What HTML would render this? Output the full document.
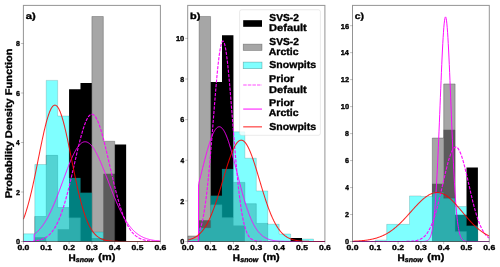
<!DOCTYPE html>
<html><head><meta charset="utf-8"><style>
html,body{margin:0;padding:0;background:#fff;width:500px;height:267px;overflow:hidden}
svg{display:block}
text{filter:grayscale(1)}
</style></head><body>
<svg width="500" height="267" viewBox="0 0 500 267">
<rect width="500" height="267" fill="#fff"/>
<clipPath id="clipa"><rect x="23.40" y="5.40" width="137.00" height="236.10"/></clipPath>
<g clip-path="url(#clipa)">
<path d="M23.40,241.50 L23.40,241.50 L34.82,241.50 L34.82,237.29 L46.23,237.29 L46.23,241.50 L57.65,241.50 L57.65,229.37 L69.07,229.37 L69.07,89.29 L80.48,89.29 L80.48,83.10 L91.90,83.10 L91.90,238.03 L103.32,238.03 L103.32,173.69 L114.73,173.69 L114.73,144.48 L126.15,144.48 L126.15,241.50 L137.57,241.50 L137.57,241.50 L148.98,241.50 L148.98,241.50 L160.40,241.50 L160.40,241.50 Z" fill="#000" stroke="none"/>
<path d="M23.40,241.50 L23.40,241.50 L34.82,241.50 L34.82,216.50 L46.23,216.50 L46.23,155.37 L57.65,155.37 L57.65,207.59 L69.07,207.59 L69.07,217.74 L80.48,217.74 L80.48,241.50 L91.90,241.50 L91.90,16.52 L103.32,16.52 L103.32,141.26 L114.73,141.26 L114.73,241.50 L126.15,241.50 L126.15,241.50 L137.57,241.50 L137.57,241.50 L148.98,241.50 L148.98,241.50 L160.40,241.50 L160.40,241.50 Z" fill="#808080" fill-opacity="0.7" stroke="#404040" stroke-opacity="0.6" stroke-width="0.6"/>
<path d="M23.40,241.50 L23.40,233.83 L34.82,233.83 L34.82,164.53 L46.23,164.53 L46.23,80.38 L57.65,80.38 L57.65,116.02 L69.07,116.02 L69.07,177.89 L80.48,177.89 L80.48,192.74 L91.90,192.74 L91.90,232.09 L103.32,232.09 L103.32,241.50 L114.73,241.50 L114.73,241.50 L126.15,241.50 L126.15,241.50 L137.57,241.50 L137.57,241.50 L148.98,241.50 L148.98,241.50 L160.40,241.50 L160.40,241.50 Z" fill="#00ffff" fill-opacity="0.5" stroke="#206060" stroke-opacity="0.35" stroke-width="0.6"/>
<path d="M23.40,241.50 L23.74,241.50 L24.08,241.50 L24.43,241.50 L24.77,241.50 L25.11,241.50 L25.45,241.50 L25.80,241.50 L26.14,241.50 L26.48,241.50 L26.82,241.50 L27.17,241.50 L27.51,241.50 L27.85,241.50 L28.20,241.50 L28.54,241.50 L28.88,241.50 L29.22,241.50 L29.56,241.50 L29.91,241.50 L30.25,241.50 L30.59,241.50 L30.93,241.50 L31.28,241.50 L31.62,241.50 L31.96,241.50 L32.30,241.50 L32.65,241.50 L32.99,241.50 L33.33,241.50 L33.67,241.50 L34.02,241.50 L34.20,241.50 L34.20,240.92 L34.36,240.90 L34.70,240.86 L35.05,240.82 L35.39,240.77 L35.73,240.73 L36.07,240.68 L36.41,240.63 L36.76,240.57 L37.10,240.51 L37.44,240.45 L37.78,240.38 L38.13,240.32 L38.47,240.24 L38.81,240.17 L39.16,240.09 L39.50,240.00 L39.84,239.91 L40.18,239.82 L40.52,239.72 L40.87,239.62 L41.21,239.51 L41.55,239.39 L41.89,239.27 L42.24,239.15 L42.58,239.01 L42.92,238.87 L43.27,238.73 L43.61,238.57 L43.95,238.41 L44.29,238.25 L44.63,238.07 L44.98,237.89 L45.32,237.69 L45.66,237.49 L46.00,237.28 L46.35,237.07 L46.69,236.84 L47.03,236.60 L47.38,236.35 L47.72,236.09 L48.06,235.82 L48.40,235.54 L48.74,235.24 L49.09,234.94 L49.43,234.62 L49.77,234.29 L50.11,233.95 L50.46,233.59 L50.80,233.22 L51.14,232.84 L51.48,232.44 L51.83,232.03 L52.17,231.60 L52.51,231.16 L52.86,230.70 L53.20,230.22 L53.54,229.73 L53.88,229.22 L54.23,228.69 L54.57,228.15 L54.91,227.59 L55.25,227.01 L55.59,226.41 L55.94,225.80 L56.28,225.16 L56.62,224.51 L56.96,223.83 L57.31,223.14 L57.65,222.42 L57.99,221.69 L58.34,220.94 L58.68,220.16 L59.02,219.36 L59.36,218.55 L59.70,217.71 L60.05,216.85 L60.39,215.97 L60.73,215.07 L61.08,214.14 L61.42,213.20 L61.76,212.23 L62.10,211.24 L62.44,210.23 L62.79,209.20 L63.13,208.15 L63.47,207.08 L63.81,205.98 L64.16,204.87 L64.50,203.73 L64.84,202.57 L65.19,201.40 L65.53,200.20 L65.87,198.98 L66.21,197.75 L66.55,196.49 L66.90,195.22 L67.24,193.93 L67.58,192.62 L67.92,191.29 L68.27,189.95 L68.61,188.60 L68.95,187.22 L69.29,185.84 L69.64,184.43 L69.98,183.02 L70.32,181.59 L70.66,180.16 L71.01,178.71 L71.35,177.25 L71.69,175.78 L72.03,174.31 L72.38,172.82 L72.72,171.34 L73.06,169.84 L73.41,168.34 L73.75,166.84 L74.09,165.34 L74.43,163.84 L74.78,162.34 L75.12,160.84 L75.46,159.34 L75.80,157.84 L76.15,156.35 L76.49,154.87 L76.83,153.39 L77.17,151.93 L77.52,150.47 L77.86,149.03 L78.20,147.59 L78.54,146.18 L78.89,144.77 L79.23,143.39 L79.57,142.02 L79.91,140.67 L80.25,139.34 L80.60,138.03 L80.94,136.75 L81.28,135.49 L81.62,134.26 L81.97,133.05 L82.31,131.87 L82.65,130.72 L82.99,129.60 L83.34,128.51 L83.68,127.46 L84.02,126.43 L84.37,125.45 L84.71,124.50 L85.05,123.58 L85.39,122.71 L85.74,121.87 L86.08,121.07 L86.42,120.32 L86.76,119.60 L87.10,118.93 L87.45,118.30 L87.79,117.71 L88.13,117.17 L88.47,116.68 L88.82,116.23 L89.16,115.82 L89.50,115.46 L89.84,115.15 L90.19,114.89 L90.53,114.67 L90.87,114.50 L91.22,114.38 L91.56,114.31 L91.90,114.29 L92.24,114.31 L92.59,114.38 L92.93,114.50 L93.27,114.67 L93.61,114.89 L93.96,115.15 L94.30,115.46 L94.64,115.82 L94.98,116.23 L95.32,116.68 L95.67,117.17 L96.01,117.71 L96.35,118.30 L96.69,118.93 L97.04,119.60 L97.38,120.32 L97.72,121.07 L98.06,121.87 L98.41,122.71 L98.75,123.58 L99.09,124.50 L99.44,125.45 L99.78,126.43 L100.12,127.46 L100.46,128.51 L100.80,129.60 L101.15,130.72 L101.49,131.87 L101.83,133.05 L102.17,134.26 L102.52,135.49 L102.86,136.75 L103.20,138.03 L103.55,139.34 L103.89,140.67 L104.23,142.02 L104.57,143.39 L104.91,144.77 L105.26,146.18 L105.60,147.59 L105.94,149.03 L106.28,150.47 L106.63,151.93 L106.97,153.39 L107.31,154.87 L107.66,156.35 L108.00,157.84 L108.34,159.34 L108.68,160.84 L109.03,162.34 L109.37,163.84 L109.71,165.34 L110.05,166.84 L110.40,168.34 L110.74,169.84 L111.08,171.34 L111.42,172.82 L111.76,174.31 L112.11,175.78 L112.45,177.25 L112.79,178.71 L113.13,180.16 L113.48,181.59 L113.82,183.02 L114.16,184.43 L114.50,185.84 L114.85,187.22 L115.19,188.60 L115.53,189.95 L115.88,191.29 L116.22,192.62 L116.56,193.93 L116.90,195.22 L117.25,196.49 L117.59,197.75 L117.93,198.98 L118.27,200.20 L118.61,201.40 L118.96,202.57 L119.30,203.73 L119.64,204.87 L119.98,205.98 L120.33,207.08 L120.67,208.15 L121.01,209.20 L121.35,210.23 L121.70,211.24 L122.04,212.23 L122.38,213.20 L122.72,214.14 L123.07,215.07 L123.41,215.97 L123.75,216.85 L124.09,217.71 L124.44,218.55 L124.78,219.36 L125.12,220.16 L125.47,220.94 L125.81,221.69 L126.15,222.42 L126.49,223.14 L126.84,223.83 L127.18,224.51 L127.52,225.16 L127.86,225.80 L128.21,226.41 L128.55,227.01 L128.89,227.59 L129.23,228.15 L129.57,228.69 L129.92,229.22 L130.26,229.73 L130.60,230.22 L130.94,230.70 L131.29,231.16 L131.63,231.60 L131.97,232.03 L132.31,232.44 L132.66,232.84 L133.00,233.22 L133.34,233.59 L133.69,233.95 L134.03,234.29 L134.37,234.62 L134.71,234.94 L135.06,235.24 L135.40,235.54 L135.74,235.82 L136.08,236.09 L136.43,236.35 L136.77,236.60 L137.11,236.84 L137.45,237.07 L137.80,237.28 L138.14,237.49 L138.48,237.69 L138.82,237.89 L139.17,238.07 L139.51,238.25 L139.85,238.41 L140.19,238.57 L140.54,238.73 L140.88,238.87 L141.22,239.01 L141.56,239.15 L141.91,239.27 L142.25,239.39 L142.59,239.51 L142.93,239.62 L143.28,239.72 L143.62,239.82 L143.96,239.91 L144.30,240.00 L144.65,240.09 L144.99,240.17 L145.33,240.24 L145.67,240.32 L146.01,240.38 L146.36,240.45 L146.70,240.51 L147.04,240.57 L147.38,240.63 L147.73,240.68 L148.07,240.73 L148.41,240.77 L148.75,240.82 L149.10,240.86 L149.44,240.90 L149.78,240.94 L150.13,240.97 L150.47,241.00 L150.81,241.04 L151.15,241.07 L151.50,241.09 L151.84,241.12 L152.18,241.14 L152.52,241.17 L152.87,241.19 L153.21,241.21 L153.55,241.23 L153.89,241.25 L154.24,241.26 L154.58,241.28 L154.92,241.29 L155.26,241.31 L155.60,241.32 L155.95,241.33 L156.29,241.34 L156.63,241.36 L156.97,241.37 L157.32,241.37 L157.66,241.38 L158.00,241.39 L158.34,241.40 L158.69,241.41 L159.03,241.41 L159.37,241.42 L159.72,241.43 L160.06,241.43 L160.40,241.44" fill="none" stroke="#ff00ff" stroke-opacity="0.95" stroke-width="1.15" stroke-dasharray="3.2 1.3"/>
<path d="M23.40,241.50 L23.74,241.50 L24.08,241.50 L24.43,241.50 L24.77,241.50 L25.11,241.50 L25.45,241.50 L25.80,241.50 L26.14,241.50 L26.48,241.50 L26.82,241.50 L27.17,241.50 L27.51,241.50 L27.85,241.50 L28.20,241.50 L28.54,241.50 L28.88,241.50 L29.22,241.50 L29.56,241.50 L29.91,241.50 L30.25,241.50 L30.59,241.50 L30.93,241.50 L31.28,241.50 L31.62,241.50 L31.96,241.50 L32.30,241.50 L32.65,241.50 L32.99,241.50 L33.33,241.50 L33.67,241.50 L34.02,241.50 L34.20,241.50 L34.20,234.35 L34.36,234.23 L34.70,233.97 L35.05,233.70 L35.39,233.43 L35.73,233.14 L36.07,232.85 L36.41,232.55 L36.76,232.24 L37.10,231.93 L37.44,231.60 L37.78,231.27 L38.13,230.93 L38.47,230.57 L38.81,230.21 L39.16,229.85 L39.50,229.47 L39.84,229.08 L40.18,228.68 L40.52,228.28 L40.87,227.86 L41.21,227.44 L41.55,227.00 L41.89,226.56 L42.24,226.10 L42.58,225.63 L42.92,225.16 L43.27,224.67 L43.61,224.18 L43.95,223.67 L44.29,223.15 L44.63,222.63 L44.98,222.09 L45.32,221.54 L45.66,220.98 L46.00,220.41 L46.35,219.83 L46.69,219.24 L47.03,218.64 L47.38,218.03 L47.72,217.40 L48.06,216.77 L48.40,216.13 L48.74,215.47 L49.09,214.81 L49.43,214.13 L49.77,213.45 L50.11,212.75 L50.46,212.04 L50.80,211.33 L51.14,210.60 L51.48,209.86 L51.83,209.12 L52.17,208.36 L52.51,207.60 L52.86,206.82 L53.20,206.04 L53.54,205.24 L53.88,204.44 L54.23,203.63 L54.57,202.81 L54.91,201.99 L55.25,201.15 L55.59,200.31 L55.94,199.46 L56.28,198.60 L56.62,197.73 L56.96,196.86 L57.31,195.98 L57.65,195.10 L57.99,194.21 L58.34,193.31 L58.68,192.41 L59.02,191.50 L59.36,190.59 L59.70,189.68 L60.05,188.76 L60.39,187.84 L60.73,186.91 L61.08,185.98 L61.42,185.05 L61.76,184.12 L62.10,183.19 L62.44,182.25 L62.79,181.31 L63.13,180.38 L63.47,179.44 L63.81,178.51 L64.16,177.58 L64.50,176.65 L64.84,175.72 L65.19,174.79 L65.53,173.87 L65.87,172.95 L66.21,172.03 L66.55,171.12 L66.90,170.21 L67.24,169.31 L67.58,168.42 L67.92,167.53 L68.27,166.65 L68.61,165.77 L68.95,164.91 L69.29,164.05 L69.64,163.21 L69.98,162.37 L70.32,161.54 L70.66,160.72 L71.01,159.92 L71.35,159.12 L71.69,158.34 L72.03,157.57 L72.38,156.82 L72.72,156.08 L73.06,155.35 L73.41,154.63 L73.75,153.93 L74.09,153.25 L74.43,152.58 L74.78,151.93 L75.12,151.30 L75.46,150.68 L75.80,150.08 L76.15,149.50 L76.49,148.94 L76.83,148.40 L77.17,147.87 L77.52,147.37 L77.86,146.88 L78.20,146.42 L78.54,145.97 L78.89,145.55 L79.23,145.15 L79.57,144.76 L79.91,144.41 L80.25,144.07 L80.60,143.75 L80.94,143.46 L81.28,143.19 L81.62,142.94 L81.97,142.72 L82.31,142.52 L82.65,142.34 L82.99,142.19 L83.34,142.06 L83.68,141.95 L84.02,141.86 L84.37,141.81 L84.71,141.77 L85.05,141.76 L85.39,141.77 L85.74,141.80 L86.08,141.86 L86.42,141.93 L86.76,142.03 L87.10,142.15 L87.45,142.30 L87.79,142.46 L88.13,142.64 L88.47,142.85 L88.82,143.08 L89.16,143.33 L89.50,143.60 L89.84,143.89 L90.19,144.20 L90.53,144.53 L90.87,144.89 L91.22,145.26 L91.56,145.65 L91.90,146.06 L92.24,146.49 L92.59,146.94 L92.93,147.41 L93.27,147.90 L93.61,148.40 L93.96,148.92 L94.30,149.46 L94.64,150.02 L94.98,150.59 L95.32,151.18 L95.67,151.79 L96.01,152.41 L96.35,153.05 L96.69,153.70 L97.04,154.36 L97.38,155.04 L97.72,155.73 L98.06,156.44 L98.41,157.16 L98.75,157.89 L99.09,158.64 L99.44,159.39 L99.78,160.16 L100.12,160.93 L100.46,161.72 L100.80,162.52 L101.15,163.32 L101.49,164.14 L101.83,164.96 L102.17,165.79 L102.52,166.63 L102.86,167.48 L103.20,168.33 L103.55,169.19 L103.89,170.05 L104.23,170.92 L104.57,171.79 L104.91,172.67 L105.26,173.56 L105.60,174.44 L105.94,175.33 L106.28,176.22 L106.63,177.12 L106.97,178.01 L107.31,178.91 L107.66,179.81 L108.00,180.70 L108.34,181.60 L108.68,182.50 L109.03,183.40 L109.37,184.29 L109.71,185.19 L110.05,186.08 L110.40,186.97 L110.74,187.86 L111.08,188.75 L111.42,189.63 L111.76,190.51 L112.11,191.39 L112.45,192.26 L112.79,193.12 L113.13,193.98 L113.48,194.84 L113.82,195.69 L114.16,196.54 L114.50,197.38 L114.85,198.21 L115.19,199.04 L115.53,199.86 L115.88,200.67 L116.22,201.48 L116.56,202.28 L116.90,203.07 L117.25,203.86 L117.59,204.63 L117.93,205.40 L118.27,206.16 L118.61,206.91 L118.96,207.66 L119.30,208.39 L119.64,209.12 L119.98,209.84 L120.33,210.54 L120.67,211.24 L121.01,211.93 L121.35,212.61 L121.70,213.28 L122.04,213.94 L122.38,214.59 L122.72,215.24 L123.07,215.87 L123.41,216.49 L123.75,217.10 L124.09,217.71 L124.44,218.30 L124.78,218.88 L125.12,219.46 L125.47,220.02 L125.81,220.58 L126.15,221.12 L126.49,221.66 L126.84,222.18 L127.18,222.70 L127.52,223.20 L127.86,223.70 L128.21,224.18 L128.55,224.66 L128.89,225.13 L129.23,225.58 L129.57,226.03 L129.92,226.47 L130.26,226.90 L130.60,227.32 L130.94,227.73 L131.29,228.13 L131.63,228.53 L131.97,228.91 L132.31,229.29 L132.66,229.66 L133.00,230.02 L133.34,230.37 L133.69,230.71 L134.03,231.04 L134.37,231.37 L134.71,231.69 L135.06,232.00 L135.40,232.30 L135.74,232.59 L136.08,232.88 L136.43,233.16 L136.77,233.43 L137.11,233.70 L137.45,233.95 L137.80,234.21 L138.14,234.45 L138.48,234.69 L138.82,234.92 L139.17,235.14 L139.51,235.36 L139.85,235.57 L140.19,235.78 L140.54,235.98 L140.88,236.17 L141.22,236.36 L141.56,236.55 L141.91,236.72 L142.25,236.90 L142.59,237.06 L142.93,237.22 L143.28,237.38 L143.62,237.53 L143.96,237.68 L144.30,237.82 L144.65,237.96 L144.99,238.10 L145.33,238.22 L145.67,238.35 L146.01,238.47 L146.36,238.59 L146.70,238.70 L147.04,238.81 L147.38,238.92 L147.73,239.02 L148.07,239.12 L148.41,239.21 L148.75,239.30 L149.10,239.39 L149.44,239.48 L149.78,239.56 L150.13,239.64 L150.47,239.72 L150.81,239.79 L151.15,239.86 L151.50,239.93 L151.84,239.99 L152.18,240.06 L152.52,240.12 L152.87,240.18 L153.21,240.23 L153.55,240.29 L153.89,240.34 L154.24,240.39 L154.58,240.44 L154.92,240.49 L155.26,240.53 L155.60,240.57 L155.95,240.62 L156.29,240.66 L156.63,240.69 L156.97,240.73 L157.32,240.76 L157.66,240.80 L158.00,240.83 L158.34,240.86 L158.69,240.89 L159.03,240.92 L159.37,240.95 L159.72,240.97 L160.06,241.00 L160.40,241.02" fill="none" stroke="#ff00ff" stroke-opacity="0.95" stroke-width="1.0"/>
<path d="M23.40,219.22 L23.74,218.33 L24.08,217.41 L24.43,216.47 L24.77,215.50 L25.11,214.51 L25.45,213.49 L25.80,212.45 L26.14,211.38 L26.48,210.28 L26.82,209.16 L27.17,208.01 L27.51,206.84 L27.85,205.64 L28.20,204.41 L28.54,203.16 L28.88,201.89 L29.22,200.59 L29.56,199.26 L29.91,197.91 L30.25,196.54 L30.59,195.14 L30.93,193.72 L31.28,192.28 L31.62,190.81 L31.96,189.32 L32.30,187.82 L32.65,186.29 L32.99,184.75 L33.33,183.18 L33.67,181.60 L34.02,180.00 L34.36,178.39 L34.70,176.76 L35.05,175.12 L35.39,173.47 L35.73,171.80 L36.07,170.13 L36.41,168.44 L36.76,166.75 L37.10,165.05 L37.44,163.34 L37.78,161.64 L38.13,159.93 L38.47,158.22 L38.81,156.50 L39.16,154.80 L39.50,153.09 L39.84,151.39 L40.18,149.70 L40.52,148.01 L40.87,146.34 L41.21,144.67 L41.55,143.02 L41.89,141.38 L42.24,139.76 L42.58,138.16 L42.92,136.58 L43.27,135.02 L43.61,133.48 L43.95,131.97 L44.29,130.48 L44.63,129.02 L44.98,127.59 L45.32,126.19 L45.66,124.83 L46.00,123.50 L46.35,122.20 L46.69,120.94 L47.03,119.73 L47.38,118.55 L47.72,117.41 L48.06,116.32 L48.40,115.27 L48.74,114.26 L49.09,113.31 L49.43,112.40 L49.77,111.54 L50.11,110.73 L50.46,109.97 L50.80,109.27 L51.14,108.61 L51.48,108.02 L51.83,107.47 L52.17,106.98 L52.51,106.55 L52.86,106.17 L53.20,105.86 L53.54,105.59 L53.88,105.39 L54.23,105.24 L54.57,105.16 L54.91,105.13 L55.25,105.16 L55.59,105.24 L55.94,105.39 L56.28,105.59 L56.62,105.86 L56.96,106.17 L57.31,106.55 L57.65,106.98 L57.99,107.47 L58.34,108.02 L58.68,108.61 L59.02,109.27 L59.36,109.97 L59.70,110.73 L60.05,111.54 L60.39,112.40 L60.73,113.31 L61.08,114.26 L61.42,115.27 L61.76,116.32 L62.10,117.41 L62.44,118.55 L62.79,119.73 L63.13,120.94 L63.47,122.20 L63.81,123.50 L64.16,124.83 L64.50,126.19 L64.84,127.59 L65.19,129.02 L65.53,130.48 L65.87,131.97 L66.21,133.48 L66.55,135.02 L66.90,136.58 L67.24,138.16 L67.58,139.76 L67.92,141.38 L68.27,143.02 L68.61,144.67 L68.95,146.34 L69.29,148.01 L69.64,149.70 L69.98,151.39 L70.32,153.09 L70.66,154.80 L71.01,156.50 L71.35,158.22 L71.69,159.93 L72.03,161.64 L72.38,163.34 L72.72,165.05 L73.06,166.75 L73.41,168.44 L73.75,170.13 L74.09,171.80 L74.43,173.47 L74.78,175.12 L75.12,176.76 L75.46,178.39 L75.80,180.00 L76.15,181.60 L76.49,183.18 L76.83,184.75 L77.17,186.29 L77.52,187.82 L77.86,189.32 L78.20,190.81 L78.54,192.28 L78.89,193.72 L79.23,195.14 L79.57,196.54 L79.91,197.91 L80.25,199.26 L80.60,200.59 L80.94,201.89 L81.28,203.16 L81.62,204.41 L81.97,205.64 L82.31,206.84 L82.65,208.01 L82.99,209.16 L83.34,210.28 L83.68,211.38 L84.02,212.45 L84.37,213.49 L84.71,214.51 L85.05,215.50 L85.39,216.47 L85.74,217.41 L86.08,218.33 L86.42,219.22 L86.76,220.08 L87.10,220.92 L87.45,221.74 L87.79,222.53 L88.13,223.30 L88.47,224.04 L88.82,224.76 L89.16,225.46 L89.50,226.14 L89.84,226.79 L90.19,227.42 L90.53,228.03 L90.87,228.62 L91.22,229.19 L91.56,229.74 L91.90,230.27 L92.24,230.78 L92.59,231.27 L92.93,231.74 L93.27,232.19 L93.61,232.63 L93.96,233.05 L94.30,233.46 L94.64,233.84 L94.98,234.22 L95.32,234.57 L95.67,234.92 L96.01,235.25 L96.35,235.56 L96.69,235.86 L97.04,236.15 L97.38,236.42 L97.72,236.69 L98.06,236.94 L98.41,237.18 L98.75,237.41 L99.09,237.63 L99.44,237.84 L99.78,238.04 L100.12,238.23 L100.46,238.41 L100.80,238.58 L101.15,238.74 L101.49,238.90 L101.83,239.04 L102.17,239.19 L102.52,239.32 L102.86,239.44 L103.20,239.56 L103.55,239.68 L103.89,239.79 L104.23,239.89 L104.57,239.99 L104.91,240.08 L105.26,240.16 L105.60,240.24 L105.94,240.32 L106.28,240.40 L106.63,240.46 L106.97,240.53 L107.31,240.59 L107.66,240.65 L108.00,240.70 L108.34,240.75 L108.68,240.80 L109.03,240.85 L109.37,240.89 L109.71,240.93 L110.05,240.97 L110.40,241.00 L110.74,241.04 L111.08,241.07 L111.42,241.10 L111.76,241.13 L112.11,241.15 L112.45,241.18 L112.79,241.20 L113.13,241.22 L113.48,241.24 L113.82,241.26 L114.16,241.27 L114.50,241.29 L114.85,241.31 L115.19,241.32 L115.53,241.33 L115.88,241.35 L116.22,241.36 L116.56,241.37 L116.90,241.38 L117.25,241.39 L117.59,241.39 L117.93,241.40 L118.27,241.41 L118.61,241.42 L118.96,241.42 L119.30,241.43 L119.64,241.43 L119.98,241.44 L120.33,241.44 L120.67,241.45 L121.01,241.45 L121.35,241.46 L121.70,241.46 L122.04,241.46 L122.38,241.47 L122.72,241.47 L123.07,241.47 L123.41,241.47 L123.75,241.48 L124.09,241.48 L124.44,241.48 L124.78,241.48 L125.12,241.48 L125.47,241.48 L125.81,241.49 L126.15,241.49 L126.49,241.49 L126.84,241.49 L127.18,241.49 L127.52,241.49 L127.86,241.49 L128.21,241.49 L128.55,241.49 L128.89,241.49 L129.23,241.49 L129.57,241.49 L129.92,241.50 L130.26,241.50 L130.60,241.50 L130.94,241.50 L131.29,241.50 L131.63,241.50 L131.97,241.50 L132.31,241.50 L132.66,241.50 L133.00,241.50 L133.34,241.50 L133.69,241.50 L134.03,241.50 L134.37,241.50 L134.71,241.50 L135.06,241.50 L135.40,241.50 L135.74,241.50 L136.08,241.50 L136.43,241.50 L136.77,241.50 L137.11,241.50 L137.45,241.50 L137.80,241.50 L138.14,241.50 L138.48,241.50 L138.82,241.50 L139.17,241.50 L139.51,241.50 L139.85,241.50 L140.19,241.50 L140.54,241.50 L140.88,241.50 L141.22,241.50 L141.56,241.50 L141.91,241.50 L142.25,241.50 L142.59,241.50 L142.93,241.50 L143.28,241.50 L143.62,241.50 L143.96,241.50 L144.30,241.50 L144.65,241.50 L144.99,241.50 L145.33,241.50 L145.67,241.50 L146.01,241.50 L146.36,241.50 L146.70,241.50 L147.04,241.50 L147.38,241.50 L147.73,241.50 L148.07,241.50 L148.41,241.50 L148.75,241.50 L149.10,241.50 L149.44,241.50 L149.78,241.50 L150.13,241.50 L150.47,241.50 L150.81,241.50 L151.15,241.50 L151.50,241.50 L151.84,241.50 L152.18,241.50 L152.52,241.50 L152.87,241.50 L153.21,241.50 L153.55,241.50 L153.89,241.50 L154.24,241.50 L154.58,241.50 L154.92,241.50 L155.26,241.50 L155.60,241.50 L155.95,241.50 L156.29,241.50 L156.63,241.50 L156.97,241.50 L157.32,241.50 L157.66,241.50 L158.00,241.50 L158.34,241.50 L158.69,241.50 L159.03,241.50 L159.37,241.50 L159.72,241.50 L160.06,241.50 L160.40,241.50" fill="none" stroke="#ff0000" stroke-opacity="0.85" stroke-width="1.05"/>
</g>
<rect x="23.40" y="5.40" width="137.00" height="236.10" fill="none" stroke="#000" stroke-opacity="0.42" stroke-width="1"/>
<line x1="23.40" y1="241.50" x2="23.40" y2="244.00" stroke="#000" stroke-opacity="0.3" stroke-width="0.8"/>
<text x="17.41" y="250.0" font-size="7.15" style="font-family:'Liberation Sans',sans-serif;font-weight:bold;stroke:#000;stroke-width:0.35px;text-rendering:geometricPrecision" textLength="11.98" lengthAdjust="spacingAndGlyphs">0.0</text>
<line x1="46.23" y1="241.50" x2="46.23" y2="244.00" stroke="#000" stroke-opacity="0.3" stroke-width="0.8"/>
<text x="40.25" y="250.0" font-size="7.15" style="font-family:'Liberation Sans',sans-serif;font-weight:bold;stroke:#000;stroke-width:0.35px;text-rendering:geometricPrecision" textLength="11.86" lengthAdjust="spacingAndGlyphs">0.1</text>
<line x1="69.07" y1="241.50" x2="69.07" y2="244.00" stroke="#000" stroke-opacity="0.3" stroke-width="0.8"/>
<text x="63.08" y="250.0" font-size="7.15" style="font-family:'Liberation Sans',sans-serif;font-weight:bold;stroke:#000;stroke-width:0.35px;text-rendering:geometricPrecision" textLength="11.97" lengthAdjust="spacingAndGlyphs">0.2</text>
<line x1="91.90" y1="241.50" x2="91.90" y2="244.00" stroke="#000" stroke-opacity="0.3" stroke-width="0.8"/>
<text x="85.92" y="250.0" font-size="7.15" style="font-family:'Liberation Sans',sans-serif;font-weight:bold;stroke:#000;stroke-width:0.35px;text-rendering:geometricPrecision" textLength="11.94" lengthAdjust="spacingAndGlyphs">0.3</text>
<line x1="114.73" y1="241.50" x2="114.73" y2="244.00" stroke="#000" stroke-opacity="0.3" stroke-width="0.8"/>
<text x="108.76" y="250.0" font-size="7.15" style="font-family:'Liberation Sans',sans-serif;font-weight:bold;stroke:#000;stroke-width:0.35px;text-rendering:geometricPrecision" textLength="11.67" lengthAdjust="spacingAndGlyphs">0.4</text>
<line x1="137.57" y1="241.50" x2="137.57" y2="244.00" stroke="#000" stroke-opacity="0.3" stroke-width="0.8"/>
<text x="131.58" y="250.0" font-size="7.15" style="font-family:'Liberation Sans',sans-serif;font-weight:bold;stroke:#000;stroke-width:0.35px;text-rendering:geometricPrecision" textLength="11.86" lengthAdjust="spacingAndGlyphs">0.5</text>
<line x1="160.40" y1="241.50" x2="160.40" y2="244.00" stroke="#000" stroke-opacity="0.3" stroke-width="0.8"/>
<text x="154.42" y="250.0" font-size="7.15" style="font-family:'Liberation Sans',sans-serif;font-weight:bold;stroke:#000;stroke-width:0.35px;text-rendering:geometricPrecision" textLength="11.94" lengthAdjust="spacingAndGlyphs">0.6</text>
<line x1="20.90" y1="241.50" x2="23.40" y2="241.50" stroke="#000" stroke-opacity="0.3" stroke-width="0.8"/>
<text x="15.91" y="244.35" font-size="7.15" style="font-family:'Liberation Sans',sans-serif;font-weight:bold;stroke:#000;stroke-width:0.35px;text-rendering:geometricPrecision" textLength="4.08" lengthAdjust="spacingAndGlyphs">0</text>
<line x1="20.90" y1="192.00" x2="23.40" y2="192.00" stroke="#000" stroke-opacity="0.3" stroke-width="0.8"/>
<text x="15.95" y="194.85" font-size="7.15" style="font-family:'Liberation Sans',sans-serif;font-weight:bold;stroke:#000;stroke-width:0.35px;text-rendering:geometricPrecision" textLength="4.03" lengthAdjust="spacingAndGlyphs">2</text>
<line x1="20.90" y1="142.50" x2="23.40" y2="142.50" stroke="#000" stroke-opacity="0.3" stroke-width="0.8"/>
<text x="16.10" y="145.35" font-size="7.15" style="font-family:'Liberation Sans',sans-serif;font-weight:bold;stroke:#000;stroke-width:0.35px;text-rendering:geometricPrecision" textLength="3.63" lengthAdjust="spacingAndGlyphs">4</text>
<line x1="20.90" y1="93.00" x2="23.40" y2="93.00" stroke="#000" stroke-opacity="0.3" stroke-width="0.8"/>
<text x="15.94" y="95.85" font-size="7.15" style="font-family:'Liberation Sans',sans-serif;font-weight:bold;stroke:#000;stroke-width:0.35px;text-rendering:geometricPrecision" textLength="4.01" lengthAdjust="spacingAndGlyphs">6</text>
<line x1="20.90" y1="43.50" x2="23.40" y2="43.50" stroke="#000" stroke-opacity="0.3" stroke-width="0.8"/>
<text x="15.98" y="46.35" font-size="7.15" style="font-family:'Liberation Sans',sans-serif;font-weight:bold;stroke:#000;stroke-width:0.35px;text-rendering:geometricPrecision" textLength="3.93" lengthAdjust="spacingAndGlyphs">8</text>
<text x="25.75" y="18.8" font-size="8.9" style="font-family:'Liberation Sans',sans-serif;font-weight:bold;stroke:#000;stroke-width:0.35px;text-rendering:geometricPrecision" textLength="9.92" lengthAdjust="spacingAndGlyphs">a)</text>
<text x="68.44" y="260.6" font-size="9.4" style="font-family:'Liberation Sans',sans-serif;font-weight:bold;stroke:#000;stroke-width:0.35px;text-rendering:geometricPrecision" textLength="7.23" lengthAdjust="spacingAndGlyphs">H</text>
<text x="75.82" y="262.0" font-size="6.9" style="font-family:'Liberation Sans',sans-serif;font-weight:bold;stroke:#000;stroke-width:0.35px;text-rendering:geometricPrecision;font-style:italic" textLength="17.99" lengthAdjust="spacingAndGlyphs">snow</text>
<text x="98.37" y="260.4" font-size="9.4" style="font-family:'Liberation Sans',sans-serif;font-weight:bold;stroke:#000;stroke-width:0.35px;text-rendering:geometricPrecision" textLength="16.97" lengthAdjust="spacingAndGlyphs">(m)</text>
<clipPath id="clipb"><rect x="187.70" y="5.40" width="137.20" height="236.10"/></clipPath>
<g clip-path="url(#clipb)">
<path d="M187.70,241.50 L187.70,241.50 L199.13,241.50 L199.13,220.17 L210.57,220.17 L210.57,82.07 L222.00,82.07 L222.00,35.35 L233.43,35.35 L233.43,225.46 L244.87,225.46 L244.87,241.50 L256.30,241.50 L256.30,241.50 L267.73,241.50 L267.73,241.50 L279.17,241.50 L279.17,241.50 L290.60,241.50 L290.60,238.05 L302.03,238.05 L302.03,241.50 L313.47,241.50 L313.47,241.50 L324.90,241.50 L324.90,241.50 Z" fill="#000" stroke="none"/>
<path d="M187.70,241.50 L187.70,236.02 L199.13,236.02 L199.13,16.47 L210.57,16.47 L210.57,204.74 L222.00,204.74 L222.00,217.53 L233.43,217.53 L233.43,182.40 L244.87,182.40 L244.87,203.72 L256.30,203.72 L256.30,223.42 L267.73,223.42 L267.73,241.50 L279.17,241.50 L279.17,241.50 L290.60,241.50 L290.60,241.50 L302.03,241.50 L302.03,241.50 L313.47,241.50 L313.47,241.50 L324.90,241.50 L324.90,241.50 Z" fill="#808080" fill-opacity="0.7" stroke="#404040" stroke-opacity="0.6" stroke-width="0.6"/>
<path d="M187.70,241.50 L187.70,239.27 L199.13,239.27 L199.13,227.69 L210.57,227.69 L210.57,195.80 L222.00,195.80 L222.00,168.99 L233.43,168.99 L233.43,131.83 L244.87,131.83 L244.87,158.23 L256.30,158.23 L256.30,190.93 L267.73,190.93 L267.73,224.24 L279.17,224.24 L279.17,233.99 L290.60,233.99 L290.60,241.50 L302.03,241.50 L302.03,239.06 L313.47,239.06 L313.47,241.50 L324.90,241.50 L324.90,241.50 Z" fill="#00ffff" fill-opacity="0.5" stroke="#206060" stroke-opacity="0.35" stroke-width="0.6"/>
<path d="M187.70,241.50 L188.04,241.50 L188.39,241.50 L188.73,241.50 L189.07,241.50 L189.41,241.50 L189.76,241.50 L190.10,241.50 L190.44,241.50 L190.79,241.50 L191.13,241.50 L191.47,241.50 L191.82,241.50 L192.16,241.50 L192.50,241.50 L192.84,241.50 L193.19,241.50 L193.53,241.50 L193.87,241.50 L194.22,241.50 L194.56,241.50 L194.90,241.50 L195.25,241.50 L195.59,241.50 L195.93,241.50 L196.27,241.50 L196.62,241.50 L196.96,241.50 L197.30,241.50 L197.65,241.50 L197.99,241.50 L198.33,241.50 L198.52,241.50 L198.52,233.55 L198.68,233.20 L199.02,232.43 L199.36,231.59 L199.70,230.69 L200.05,229.72 L200.39,228.69 L200.73,227.58 L201.08,226.39 L201.42,225.12 L201.76,223.77 L202.11,222.33 L202.45,220.80 L202.79,219.18 L203.13,217.46 L203.48,215.64 L203.82,213.72 L204.16,211.69 L204.51,209.56 L204.85,207.32 L205.19,204.97 L205.54,202.51 L205.88,199.93 L206.22,197.24 L206.56,194.43 L206.91,191.51 L207.25,188.48 L207.59,185.34 L207.94,182.08 L208.28,178.72 L208.62,175.25 L208.97,171.68 L209.31,168.01 L209.65,164.25 L209.99,160.39 L210.34,156.45 L210.68,152.44 L211.02,148.35 L211.37,144.20 L211.71,140.00 L212.05,135.75 L212.40,131.46 L212.74,127.14 L213.08,122.81 L213.42,118.47 L213.77,114.13 L214.11,109.81 L214.45,105.51 L214.80,101.25 L215.14,97.05 L215.48,92.91 L215.83,88.84 L216.17,84.86 L216.51,80.98 L216.85,77.22 L217.20,73.58 L217.54,70.09 L217.88,66.74 L218.23,63.55 L218.57,60.54 L218.91,57.71 L219.26,55.07 L219.60,52.64 L219.94,50.42 L220.28,48.42 L220.63,46.64 L220.97,45.10 L221.31,43.81 L221.66,42.75 L222.00,41.95 L222.34,41.40 L222.69,41.10 L223.03,41.05 L223.37,41.27 L223.71,41.74 L224.06,42.46 L224.40,43.43 L224.74,44.64 L225.09,46.10 L225.43,47.80 L225.77,49.72 L226.12,51.87 L226.46,54.24 L226.80,56.81 L227.14,59.57 L227.49,62.53 L227.83,65.66 L228.17,68.95 L228.52,72.40 L228.86,75.99 L229.20,79.72 L229.55,83.56 L229.89,87.50 L230.23,91.54 L230.57,95.66 L230.92,99.85 L231.26,104.09 L231.60,108.37 L231.95,112.69 L232.29,117.02 L232.63,121.36 L232.98,125.70 L233.32,130.02 L233.66,134.32 L234.00,138.59 L234.35,142.81 L234.69,146.98 L235.03,151.08 L235.38,155.12 L235.72,159.09 L236.06,162.97 L236.41,166.77 L236.75,170.47 L237.09,174.07 L237.43,177.58 L237.78,180.98 L238.12,184.27 L238.46,187.45 L238.81,190.52 L239.15,193.47 L239.49,196.32 L239.84,199.04 L240.18,201.66 L240.52,204.16 L240.86,206.55 L241.21,208.83 L241.55,211.00 L241.89,213.06 L242.24,215.01 L242.58,216.86 L242.92,218.62 L243.27,220.27 L243.61,221.83 L243.95,223.30 L244.29,224.68 L244.64,225.97 L244.98,227.19 L245.32,228.32 L245.67,229.39 L246.01,230.38 L246.35,231.30 L246.70,232.15 L247.04,232.95 L247.38,233.69 L247.72,234.37 L248.07,235.01 L248.41,235.59 L248.75,236.13 L249.10,236.62 L249.44,237.08 L249.78,237.50 L250.13,237.88 L250.47,238.23 L250.81,238.55 L251.16,238.84 L251.50,239.11 L251.84,239.35 L252.18,239.57 L252.53,239.77 L252.87,239.95 L253.21,240.12 L253.56,240.27 L253.90,240.40 L254.24,240.52 L254.58,240.63 L254.93,240.73 L255.27,240.81 L255.61,240.89 L255.96,240.96 L256.30,241.02 L256.64,241.08 L256.99,241.13 L257.33,241.17 L257.67,241.21 L258.01,241.25 L258.36,241.28 L258.70,241.31 L259.04,241.33 L259.39,241.35 L259.73,241.37 L260.07,241.39 L260.42,241.40 L260.76,241.41 L261.10,241.43 L261.44,241.44 L261.79,241.44 L262.13,241.45 L262.47,241.46 L262.82,241.46 L263.16,241.47 L263.50,241.47 L263.85,241.48 L264.19,241.48 L264.53,241.48 L264.88,241.49 L265.22,241.49 L265.56,241.49 L265.90,241.49 L266.25,241.49 L266.59,241.49 L266.93,241.49 L267.28,241.50 L267.62,241.50 L267.96,241.50 L268.30,241.50 L268.65,241.50 L268.99,241.50 L269.33,241.50 L269.68,241.50 L270.02,241.50 L270.36,241.50 L270.71,241.50 L271.05,241.50 L271.39,241.50 L271.74,241.50 L272.08,241.50 L272.42,241.50 L272.76,241.50 L273.11,241.50 L273.45,241.50 L273.79,241.50 L274.14,241.50 L274.48,241.50 L274.82,241.50 L275.16,241.50 L275.51,241.50 L275.85,241.50 L276.19,241.50 L276.54,241.50 L276.88,241.50 L277.22,241.50 L277.57,241.50 L277.91,241.50 L278.25,241.50 L278.60,241.50 L278.94,241.50 L279.28,241.50 L279.62,241.50 L279.97,241.50 L280.31,241.50 L280.65,241.50 L281.00,241.50 L281.34,241.50 L281.68,241.50 L282.02,241.50 L282.37,241.50 L282.71,241.50 L283.05,241.50 L283.40,241.50 L283.74,241.50 L284.08,241.50 L284.43,241.50 L284.77,241.50 L285.11,241.50 L285.45,241.50 L285.80,241.50 L286.14,241.50 L286.48,241.50 L286.83,241.50 L287.17,241.50 L287.51,241.50 L287.86,241.50 L288.20,241.50 L288.54,241.50 L288.88,241.50 L289.23,241.50 L289.57,241.50 L289.91,241.50 L290.26,241.50 L290.60,241.50 L290.94,241.50 L291.29,241.50 L291.63,241.50 L291.97,241.50 L292.31,241.50 L292.66,241.50 L293.00,241.50 L293.34,241.50 L293.69,241.50 L294.03,241.50 L294.37,241.50 L294.72,241.50 L295.06,241.50 L295.40,241.50 L295.75,241.50 L296.09,241.50 L296.43,241.50 L296.77,241.50 L297.12,241.50 L297.46,241.50 L297.80,241.50 L298.15,241.50 L298.49,241.50 L298.83,241.50 L299.17,241.50 L299.52,241.50 L299.86,241.50 L300.20,241.50 L300.55,241.50 L300.89,241.50 L301.23,241.50 L301.58,241.50 L301.92,241.50 L302.26,241.50 L302.60,241.50 L302.95,241.50 L303.29,241.50 L303.63,241.50 L303.98,241.50 L304.32,241.50 L304.66,241.50 L305.01,241.50 L305.35,241.50 L305.69,241.50 L306.03,241.50 L306.38,241.50 L306.72,241.50 L307.06,241.50 L307.41,241.50 L307.75,241.50 L308.09,241.50 L308.44,241.50 L308.78,241.50 L309.12,241.50 L309.46,241.50 L309.81,241.50 L310.15,241.50 L310.49,241.50 L310.84,241.50 L311.18,241.50 L311.52,241.50 L311.87,241.50 L312.21,241.50 L312.55,241.50 L312.89,241.50 L313.24,241.50 L313.58,241.50 L313.92,241.50 L314.27,241.50 L314.61,241.50 L314.95,241.50 L315.30,241.50 L315.64,241.50 L315.98,241.50 L316.32,241.50 L316.67,241.50 L317.01,241.50 L317.35,241.50 L317.70,241.50 L318.04,241.50 L318.38,241.50 L318.73,241.50 L319.07,241.50 L319.41,241.50 L319.75,241.50 L320.10,241.50 L320.44,241.50 L320.78,241.50 L321.13,241.50 L321.47,241.50 L321.81,241.50 L322.16,241.50 L322.50,241.50 L322.84,241.50 L323.18,241.50 L323.53,241.50 L323.87,241.50 L324.21,241.50 L324.56,241.50 L324.90,241.50" fill="none" stroke="#ff00ff" stroke-opacity="0.95" stroke-width="1.15" stroke-dasharray="3.2 1.3"/>
<path d="M187.70,241.50 L188.04,241.50 L188.39,241.50 L188.73,241.50 L189.07,241.50 L189.41,241.50 L189.76,241.50 L190.10,241.50 L190.44,241.50 L190.79,241.50 L191.13,241.50 L191.47,241.50 L191.82,241.50 L192.16,241.50 L192.50,241.50 L192.84,241.50 L193.19,241.50 L193.53,241.50 L193.87,241.50 L194.22,241.50 L194.56,241.50 L194.90,241.50 L195.25,241.50 L195.59,241.50 L195.93,241.50 L196.27,241.50 L196.62,241.50 L196.96,241.50 L197.30,241.50 L197.65,241.50 L197.99,241.50 L198.33,241.50 L198.52,241.50 L198.52,184.16 L198.68,183.54 L199.02,182.22 L199.36,180.89 L199.70,179.55 L200.05,178.21 L200.39,176.86 L200.73,175.51 L201.08,174.16 L201.42,172.80 L201.76,171.45 L202.11,170.09 L202.45,168.74 L202.79,167.39 L203.13,166.04 L203.48,164.70 L203.82,163.36 L204.16,162.03 L204.51,160.70 L204.85,159.39 L205.19,158.09 L205.54,156.79 L205.88,155.52 L206.22,154.25 L206.56,153.00 L206.91,151.77 L207.25,150.55 L207.59,149.35 L207.94,148.17 L208.28,147.01 L208.62,145.88 L208.97,144.76 L209.31,143.67 L209.65,142.61 L209.99,141.57 L210.34,140.56 L210.68,139.58 L211.02,138.63 L211.37,137.71 L211.71,136.82 L212.05,135.96 L212.40,135.14 L212.74,134.35 L213.08,133.59 L213.42,132.87 L213.77,132.19 L214.11,131.54 L214.45,130.94 L214.80,130.37 L215.14,129.84 L215.48,129.35 L215.83,128.91 L216.17,128.50 L216.51,128.13 L216.85,127.81 L217.20,127.53 L217.54,127.29 L217.88,127.10 L218.23,126.94 L218.57,126.84 L218.91,126.77 L219.26,126.75 L219.60,126.77 L219.94,126.84 L220.28,126.94 L220.63,127.10 L220.97,127.29 L221.31,127.53 L221.66,127.81 L222.00,128.13 L222.34,128.50 L222.69,128.91 L223.03,129.35 L223.37,129.84 L223.71,130.37 L224.06,130.94 L224.40,131.54 L224.74,132.19 L225.09,132.87 L225.43,133.59 L225.77,134.35 L226.12,135.14 L226.46,135.96 L226.80,136.82 L227.14,137.71 L227.49,138.63 L227.83,139.58 L228.17,140.56 L228.52,141.57 L228.86,142.61 L229.20,143.67 L229.55,144.76 L229.89,145.88 L230.23,147.01 L230.57,148.17 L230.92,149.35 L231.26,150.55 L231.60,151.77 L231.95,153.00 L232.29,154.25 L232.63,155.52 L232.98,156.79 L233.32,158.09 L233.66,159.39 L234.00,160.70 L234.35,162.03 L234.69,163.36 L235.03,164.70 L235.38,166.04 L235.72,167.39 L236.06,168.74 L236.41,170.09 L236.75,171.45 L237.09,172.80 L237.43,174.16 L237.78,175.51 L238.12,176.86 L238.46,178.21 L238.81,179.55 L239.15,180.89 L239.49,182.22 L239.84,183.54 L240.18,184.86 L240.52,186.17 L240.86,187.46 L241.21,188.75 L241.55,190.03 L241.89,191.29 L242.24,192.54 L242.58,193.78 L242.92,195.00 L243.27,196.21 L243.61,197.41 L243.95,198.59 L244.29,199.75 L244.64,200.90 L244.98,202.03 L245.32,203.15 L245.67,204.25 L246.01,205.33 L246.35,206.39 L246.70,207.43 L247.04,208.46 L247.38,209.46 L247.72,210.45 L248.07,211.42 L248.41,212.37 L248.75,213.30 L249.10,214.21 L249.44,215.10 L249.78,215.97 L250.13,216.82 L250.47,217.66 L250.81,218.47 L251.16,219.27 L251.50,220.04 L251.84,220.80 L252.18,221.53 L252.53,222.25 L252.87,222.95 L253.21,223.63 L253.56,224.29 L253.90,224.94 L254.24,225.56 L254.58,226.17 L254.93,226.76 L255.27,227.33 L255.61,227.89 L255.96,228.43 L256.30,228.95 L256.64,229.46 L256.99,229.95 L257.33,230.42 L257.67,230.88 L258.01,231.33 L258.36,231.75 L258.70,232.17 L259.04,232.57 L259.39,232.96 L259.73,233.33 L260.07,233.69 L260.42,234.03 L260.76,234.37 L261.10,234.69 L261.44,235.00 L261.79,235.30 L262.13,235.58 L262.47,235.86 L262.82,236.12 L263.16,236.38 L263.50,236.62 L263.85,236.85 L264.19,237.08 L264.53,237.29 L264.88,237.50 L265.22,237.70 L265.56,237.89 L265.90,238.07 L266.25,238.24 L266.59,238.41 L266.93,238.57 L267.28,238.72 L267.62,238.86 L267.96,239.00 L268.30,239.13 L268.65,239.26 L268.99,239.38 L269.33,239.49 L269.68,239.60 L270.02,239.70 L270.36,239.80 L270.71,239.89 L271.05,239.98 L271.39,240.07 L271.74,240.15 L272.08,240.23 L272.42,240.30 L272.76,240.37 L273.11,240.43 L273.45,240.49 L273.79,240.55 L274.14,240.61 L274.48,240.66 L274.82,240.71 L275.16,240.76 L275.51,240.80 L275.85,240.84 L276.19,240.88 L276.54,240.92 L276.88,240.96 L277.22,240.99 L277.57,241.02 L277.91,241.05 L278.25,241.08 L278.60,241.11 L278.94,241.13 L279.28,241.16 L279.62,241.18 L279.97,241.20 L280.31,241.22 L280.65,241.24 L281.00,241.25 L281.34,241.27 L281.68,241.29 L282.02,241.30 L282.37,241.31 L282.71,241.33 L283.05,241.34 L283.40,241.35 L283.74,241.36 L284.08,241.37 L284.43,241.38 L284.77,241.39 L285.11,241.39 L285.45,241.40 L285.80,241.41 L286.14,241.42 L286.48,241.42 L286.83,241.43 L287.17,241.43 L287.51,241.44 L287.86,241.44 L288.20,241.45 L288.54,241.45 L288.88,241.45 L289.23,241.46 L289.57,241.46 L289.91,241.46 L290.26,241.47 L290.60,241.47 L290.94,241.47 L291.29,241.47 L291.63,241.48 L291.97,241.48 L292.31,241.48 L292.66,241.48 L293.00,241.48 L293.34,241.48 L293.69,241.48 L294.03,241.49 L294.37,241.49 L294.72,241.49 L295.06,241.49 L295.40,241.49 L295.75,241.49 L296.09,241.49 L296.43,241.49 L296.77,241.49 L297.12,241.49 L297.46,241.49 L297.80,241.49 L298.15,241.49 L298.49,241.50 L298.83,241.50 L299.17,241.50 L299.52,241.50 L299.86,241.50 L300.20,241.50 L300.55,241.50 L300.89,241.50 L301.23,241.50 L301.58,241.50 L301.92,241.50 L302.26,241.50 L302.60,241.50 L302.95,241.50 L303.29,241.50 L303.63,241.50 L303.98,241.50 L304.32,241.50 L304.66,241.50 L305.01,241.50 L305.35,241.50 L305.69,241.50 L306.03,241.50 L306.38,241.50 L306.72,241.50 L307.06,241.50 L307.41,241.50 L307.75,241.50 L308.09,241.50 L308.44,241.50 L308.78,241.50 L309.12,241.50 L309.46,241.50 L309.81,241.50 L310.15,241.50 L310.49,241.50 L310.84,241.50 L311.18,241.50 L311.52,241.50 L311.87,241.50 L312.21,241.50 L312.55,241.50 L312.89,241.50 L313.24,241.50 L313.58,241.50 L313.92,241.50 L314.27,241.50 L314.61,241.50 L314.95,241.50 L315.30,241.50 L315.64,241.50 L315.98,241.50 L316.32,241.50 L316.67,241.50 L317.01,241.50 L317.35,241.50 L317.70,241.50 L318.04,241.50 L318.38,241.50 L318.73,241.50 L319.07,241.50 L319.41,241.50 L319.75,241.50 L320.10,241.50 L320.44,241.50 L320.78,241.50 L321.13,241.50 L321.47,241.50 L321.81,241.50 L322.16,241.50 L322.50,241.50 L322.84,241.50 L323.18,241.50 L323.53,241.50 L323.87,241.50 L324.21,241.50 L324.56,241.50 L324.90,241.50" fill="none" stroke="#ff00ff" stroke-opacity="0.95" stroke-width="1.0"/>
<path d="M187.70,240.09 L188.04,240.02 L188.39,239.93 L188.73,239.85 L189.07,239.75 L189.41,239.66 L189.76,239.56 L190.10,239.45 L190.44,239.34 L190.79,239.23 L191.13,239.11 L191.47,238.98 L191.82,238.85 L192.16,238.72 L192.50,238.57 L192.84,238.42 L193.19,238.27 L193.53,238.11 L193.87,237.94 L194.22,237.76 L194.56,237.58 L194.90,237.38 L195.25,237.18 L195.59,236.98 L195.93,236.76 L196.27,236.54 L196.62,236.30 L196.96,236.06 L197.30,235.81 L197.65,235.55 L197.99,235.28 L198.33,235.00 L198.68,234.71 L199.02,234.41 L199.36,234.09 L199.70,233.77 L200.05,233.44 L200.39,233.09 L200.73,232.73 L201.08,232.36 L201.42,231.98 L201.76,231.59 L202.11,231.18 L202.45,230.76 L202.79,230.33 L203.13,229.88 L203.48,229.42 L203.82,228.95 L204.16,228.46 L204.51,227.95 L204.85,227.44 L205.19,226.91 L205.54,226.36 L205.88,225.80 L206.22,225.22 L206.56,224.63 L206.91,224.03 L207.25,223.40 L207.59,222.77 L207.94,222.11 L208.28,221.44 L208.62,220.76 L208.97,220.06 L209.31,219.34 L209.65,218.61 L209.99,217.86 L210.34,217.10 L210.68,216.32 L211.02,215.52 L211.37,214.71 L211.71,213.88 L212.05,213.04 L212.40,212.18 L212.74,211.31 L213.08,210.42 L213.42,209.52 L213.77,208.60 L214.11,207.66 L214.45,206.72 L214.80,205.76 L215.14,204.78 L215.48,203.80 L215.83,202.79 L216.17,201.78 L216.51,200.76 L216.85,199.72 L217.20,198.67 L217.54,197.61 L217.88,196.54 L218.23,195.46 L218.57,194.37 L218.91,193.28 L219.26,192.17 L219.60,191.06 L219.94,189.93 L220.28,188.81 L220.63,187.68 L220.97,186.54 L221.31,185.40 L221.66,184.25 L222.00,183.10 L222.34,181.95 L222.69,180.80 L223.03,179.65 L223.37,178.49 L223.71,177.34 L224.06,176.19 L224.40,175.05 L224.74,173.90 L225.09,172.77 L225.43,171.63 L225.77,170.51 L226.12,169.39 L226.46,168.28 L226.80,167.17 L227.14,166.08 L227.49,165.00 L227.83,163.93 L228.17,162.87 L228.52,161.83 L228.86,160.80 L229.20,159.79 L229.55,158.79 L229.89,157.81 L230.23,156.85 L230.57,155.91 L230.92,154.98 L231.26,154.08 L231.60,153.20 L231.95,152.34 L232.29,151.51 L232.63,150.70 L232.98,149.91 L233.32,149.15 L233.66,148.42 L234.00,147.71 L234.35,147.03 L234.69,146.38 L235.03,145.76 L235.38,145.17 L235.72,144.61 L236.06,144.08 L236.41,143.59 L236.75,143.12 L237.09,142.69 L237.43,142.29 L237.78,141.92 L238.12,141.59 L238.46,141.29 L238.81,141.02 L239.15,140.79 L239.49,140.60 L239.84,140.44 L240.18,140.31 L240.52,140.22 L240.86,140.17 L241.21,140.15 L241.55,140.17 L241.89,140.22 L242.24,140.31 L242.58,140.44 L242.92,140.60 L243.27,140.79 L243.61,141.02 L243.95,141.29 L244.29,141.59 L244.64,141.92 L244.98,142.29 L245.32,142.69 L245.67,143.12 L246.01,143.59 L246.35,144.08 L246.70,144.61 L247.04,145.17 L247.38,145.76 L247.72,146.38 L248.07,147.03 L248.41,147.71 L248.75,148.42 L249.10,149.15 L249.44,149.91 L249.78,150.70 L250.13,151.51 L250.47,152.34 L250.81,153.20 L251.16,154.08 L251.50,154.98 L251.84,155.91 L252.18,156.85 L252.53,157.81 L252.87,158.79 L253.21,159.79 L253.56,160.80 L253.90,161.83 L254.24,162.87 L254.58,163.93 L254.93,165.00 L255.27,166.08 L255.61,167.17 L255.96,168.28 L256.30,169.39 L256.64,170.51 L256.99,171.63 L257.33,172.77 L257.67,173.90 L258.01,175.05 L258.36,176.19 L258.70,177.34 L259.04,178.49 L259.39,179.65 L259.73,180.80 L260.07,181.95 L260.42,183.10 L260.76,184.25 L261.10,185.40 L261.44,186.54 L261.79,187.68 L262.13,188.81 L262.47,189.93 L262.82,191.06 L263.16,192.17 L263.50,193.28 L263.85,194.37 L264.19,195.46 L264.53,196.54 L264.88,197.61 L265.22,198.67 L265.56,199.72 L265.90,200.76 L266.25,201.78 L266.59,202.79 L266.93,203.80 L267.28,204.78 L267.62,205.76 L267.96,206.72 L268.30,207.66 L268.65,208.60 L268.99,209.52 L269.33,210.42 L269.68,211.31 L270.02,212.18 L270.36,213.04 L270.71,213.88 L271.05,214.71 L271.39,215.52 L271.74,216.32 L272.08,217.10 L272.42,217.86 L272.76,218.61 L273.11,219.34 L273.45,220.06 L273.79,220.76 L274.14,221.44 L274.48,222.11 L274.82,222.77 L275.16,223.40 L275.51,224.03 L275.85,224.63 L276.19,225.22 L276.54,225.80 L276.88,226.36 L277.22,226.91 L277.57,227.44 L277.91,227.95 L278.25,228.46 L278.60,228.95 L278.94,229.42 L279.28,229.88 L279.62,230.33 L279.97,230.76 L280.31,231.18 L280.65,231.59 L281.00,231.98 L281.34,232.36 L281.68,232.73 L282.02,233.09 L282.37,233.44 L282.71,233.77 L283.05,234.09 L283.40,234.41 L283.74,234.71 L284.08,235.00 L284.43,235.28 L284.77,235.55 L285.11,235.81 L285.45,236.06 L285.80,236.30 L286.14,236.54 L286.48,236.76 L286.83,236.98 L287.17,237.18 L287.51,237.38 L287.86,237.58 L288.20,237.76 L288.54,237.94 L288.88,238.11 L289.23,238.27 L289.57,238.42 L289.91,238.57 L290.26,238.72 L290.60,238.85 L290.94,238.98 L291.29,239.11 L291.63,239.23 L291.97,239.34 L292.31,239.45 L292.66,239.56 L293.00,239.66 L293.34,239.75 L293.69,239.85 L294.03,239.93 L294.37,240.02 L294.72,240.09 L295.06,240.17 L295.40,240.24 L295.75,240.31 L296.09,240.37 L296.43,240.44 L296.77,240.49 L297.12,240.55 L297.46,240.60 L297.80,240.65 L298.15,240.70 L298.49,240.75 L298.83,240.79 L299.17,240.83 L299.52,240.87 L299.86,240.91 L300.20,240.94 L300.55,240.97 L300.89,241.01 L301.23,241.03 L301.58,241.06 L301.92,241.09 L302.26,241.11 L302.60,241.14 L302.95,241.16 L303.29,241.18 L303.63,241.20 L303.98,241.22 L304.32,241.24 L304.66,241.25 L305.01,241.27 L305.35,241.28 L305.69,241.30 L306.03,241.31 L306.38,241.32 L306.72,241.33 L307.06,241.34 L307.41,241.35 L307.75,241.36 L308.09,241.37 L308.44,241.38 L308.78,241.39 L309.12,241.40 L309.46,241.40 L309.81,241.41 L310.15,241.42 L310.49,241.42 L310.84,241.43 L311.18,241.43 L311.52,241.44 L311.87,241.44 L312.21,241.45 L312.55,241.45 L312.89,241.45 L313.24,241.46 L313.58,241.46 L313.92,241.46 L314.27,241.47 L314.61,241.47 L314.95,241.47 L315.30,241.47 L315.64,241.47 L315.98,241.48 L316.32,241.48 L316.67,241.48 L317.01,241.48 L317.35,241.48 L317.70,241.48 L318.04,241.49 L318.38,241.49 L318.73,241.49 L319.07,241.49 L319.41,241.49 L319.75,241.49 L320.10,241.49 L320.44,241.49 L320.78,241.49 L321.13,241.49 L321.47,241.49 L321.81,241.49 L322.16,241.49 L322.50,241.49 L322.84,241.50 L323.18,241.50 L323.53,241.50 L323.87,241.50 L324.21,241.50 L324.56,241.50 L324.90,241.50" fill="none" stroke="#ff0000" stroke-opacity="0.85" stroke-width="1.05"/>
</g>
<rect x="187.70" y="5.40" width="137.20" height="236.10" fill="none" stroke="#000" stroke-opacity="0.42" stroke-width="1"/>
<line x1="187.70" y1="241.50" x2="187.70" y2="244.00" stroke="#000" stroke-opacity="0.3" stroke-width="0.8"/>
<text x="181.71" y="250.0" font-size="7.15" style="font-family:'Liberation Sans',sans-serif;font-weight:bold;stroke:#000;stroke-width:0.35px;text-rendering:geometricPrecision" textLength="11.98" lengthAdjust="spacingAndGlyphs">0.0</text>
<line x1="210.57" y1="241.50" x2="210.57" y2="244.00" stroke="#000" stroke-opacity="0.3" stroke-width="0.8"/>
<text x="204.58" y="250.0" font-size="7.15" style="font-family:'Liberation Sans',sans-serif;font-weight:bold;stroke:#000;stroke-width:0.35px;text-rendering:geometricPrecision" textLength="11.86" lengthAdjust="spacingAndGlyphs">0.1</text>
<line x1="233.43" y1="241.50" x2="233.43" y2="244.00" stroke="#000" stroke-opacity="0.3" stroke-width="0.8"/>
<text x="227.45" y="250.0" font-size="7.15" style="font-family:'Liberation Sans',sans-serif;font-weight:bold;stroke:#000;stroke-width:0.35px;text-rendering:geometricPrecision" textLength="11.97" lengthAdjust="spacingAndGlyphs">0.2</text>
<line x1="256.30" y1="241.50" x2="256.30" y2="244.00" stroke="#000" stroke-opacity="0.3" stroke-width="0.8"/>
<text x="250.32" y="250.0" font-size="7.15" style="font-family:'Liberation Sans',sans-serif;font-weight:bold;stroke:#000;stroke-width:0.35px;text-rendering:geometricPrecision" textLength="11.94" lengthAdjust="spacingAndGlyphs">0.3</text>
<line x1="279.17" y1="241.50" x2="279.17" y2="244.00" stroke="#000" stroke-opacity="0.3" stroke-width="0.8"/>
<text x="273.19" y="250.0" font-size="7.15" style="font-family:'Liberation Sans',sans-serif;font-weight:bold;stroke:#000;stroke-width:0.35px;text-rendering:geometricPrecision" textLength="11.67" lengthAdjust="spacingAndGlyphs">0.4</text>
<line x1="302.03" y1="241.50" x2="302.03" y2="244.00" stroke="#000" stroke-opacity="0.3" stroke-width="0.8"/>
<text x="296.05" y="250.0" font-size="7.15" style="font-family:'Liberation Sans',sans-serif;font-weight:bold;stroke:#000;stroke-width:0.35px;text-rendering:geometricPrecision" textLength="11.86" lengthAdjust="spacingAndGlyphs">0.5</text>
<line x1="324.90" y1="241.50" x2="324.90" y2="244.00" stroke="#000" stroke-opacity="0.3" stroke-width="0.8"/>
<text x="318.92" y="250.0" font-size="7.15" style="font-family:'Liberation Sans',sans-serif;font-weight:bold;stroke:#000;stroke-width:0.35px;text-rendering:geometricPrecision" textLength="11.94" lengthAdjust="spacingAndGlyphs">0.6</text>
<line x1="185.20" y1="241.50" x2="187.70" y2="241.50" stroke="#000" stroke-opacity="0.3" stroke-width="0.8"/>
<text x="180.21" y="244.35" font-size="7.15" style="font-family:'Liberation Sans',sans-serif;font-weight:bold;stroke:#000;stroke-width:0.35px;text-rendering:geometricPrecision" textLength="4.08" lengthAdjust="spacingAndGlyphs">0</text>
<line x1="185.20" y1="200.88" x2="187.70" y2="200.88" stroke="#000" stroke-opacity="0.3" stroke-width="0.8"/>
<text x="180.25" y="203.73" font-size="7.15" style="font-family:'Liberation Sans',sans-serif;font-weight:bold;stroke:#000;stroke-width:0.35px;text-rendering:geometricPrecision" textLength="4.03" lengthAdjust="spacingAndGlyphs">2</text>
<line x1="185.20" y1="160.26" x2="187.70" y2="160.26" stroke="#000" stroke-opacity="0.3" stroke-width="0.8"/>
<text x="180.40" y="163.11" font-size="7.15" style="font-family:'Liberation Sans',sans-serif;font-weight:bold;stroke:#000;stroke-width:0.35px;text-rendering:geometricPrecision" textLength="3.63" lengthAdjust="spacingAndGlyphs">4</text>
<line x1="185.20" y1="119.64" x2="187.70" y2="119.64" stroke="#000" stroke-opacity="0.3" stroke-width="0.8"/>
<text x="180.24" y="122.49" font-size="7.15" style="font-family:'Liberation Sans',sans-serif;font-weight:bold;stroke:#000;stroke-width:0.35px;text-rendering:geometricPrecision" textLength="4.01" lengthAdjust="spacingAndGlyphs">6</text>
<line x1="185.20" y1="79.02" x2="187.70" y2="79.02" stroke="#000" stroke-opacity="0.3" stroke-width="0.8"/>
<text x="180.28" y="81.87" font-size="7.15" style="font-family:'Liberation Sans',sans-serif;font-weight:bold;stroke:#000;stroke-width:0.35px;text-rendering:geometricPrecision" textLength="3.93" lengthAdjust="spacingAndGlyphs">8</text>
<line x1="185.20" y1="38.40" x2="187.70" y2="38.40" stroke="#000" stroke-opacity="0.3" stroke-width="0.8"/>
<text x="175.93" y="41.25" font-size="7.15" style="font-family:'Liberation Sans',sans-serif;font-weight:bold;stroke:#000;stroke-width:0.35px;text-rendering:geometricPrecision" textLength="8.37" lengthAdjust="spacingAndGlyphs">10</text>
<text x="190.04" y="18.8" font-size="8.9" style="font-family:'Liberation Sans',sans-serif;font-weight:bold;stroke:#000;stroke-width:0.35px;text-rendering:geometricPrecision" textLength="10.29" lengthAdjust="spacingAndGlyphs">b)</text>
<text x="232.84" y="260.6" font-size="9.4" style="font-family:'Liberation Sans',sans-serif;font-weight:bold;stroke:#000;stroke-width:0.35px;text-rendering:geometricPrecision" textLength="7.23" lengthAdjust="spacingAndGlyphs">H</text>
<text x="240.22" y="262.0" font-size="6.9" style="font-family:'Liberation Sans',sans-serif;font-weight:bold;stroke:#000;stroke-width:0.35px;text-rendering:geometricPrecision;font-style:italic" textLength="17.99" lengthAdjust="spacingAndGlyphs">snow</text>
<text x="262.77" y="260.4" font-size="9.4" style="font-family:'Liberation Sans',sans-serif;font-weight:bold;stroke:#000;stroke-width:0.35px;text-rendering:geometricPrecision" textLength="16.97" lengthAdjust="spacingAndGlyphs">(m)</text>
<clipPath id="clipc"><rect x="352.50" y="5.40" width="136.80" height="236.10"/></clipPath>
<g clip-path="url(#clipc)">
<path d="M352.50,241.50 L352.50,241.50 L363.90,241.50 L363.90,241.50 L375.30,241.50 L375.30,241.50 L386.70,241.50 L386.70,241.50 L398.10,241.50 L398.10,241.50 L409.50,241.50 L409.50,241.50 L420.90,241.50 L420.90,241.50 L432.30,241.50 L432.30,183.63 L443.70,183.63 L443.70,129.80 L455.10,129.80 L455.10,214.65 L466.50,214.65 L466.50,167.57 L477.90,167.57 L477.90,241.50 L489.30,241.50 L489.30,241.50 Z" fill="#000" stroke="none"/>
<path d="M352.50,241.50 L352.50,241.50 L363.90,241.50 L363.90,241.50 L375.30,241.50 L375.30,241.50 L386.70,241.50 L386.70,241.50 L398.10,241.50 L398.10,241.50 L409.50,241.50 L409.50,241.50 L420.90,241.50 L420.90,241.50 L432.30,241.50 L432.30,138.03 L443.70,138.03 L443.70,83.94 L455.10,83.94 L455.10,231.52 L466.50,231.52 L466.50,241.50 L477.90,241.50 L477.90,241.50 L489.30,241.50 L489.30,241.50 Z" fill="#808080" fill-opacity="0.7" stroke="#404040" stroke-opacity="0.6" stroke-width="0.6"/>
<path d="M352.50,241.50 L352.50,241.50 L363.90,241.50 L363.90,241.50 L375.30,241.50 L375.30,240.15 L386.70,240.15 L386.70,224.37 L398.10,224.37 L398.10,224.37 L409.50,224.37 L409.50,195.90 L420.90,195.90 L420.90,196.44 L432.30,196.44 L432.30,192.26 L443.70,192.26 L443.70,198.33 L455.10,198.33 L455.10,206.56 L466.50,206.56 L466.50,225.85 L477.90,225.85 L477.90,241.50 L489.30,241.50 L489.30,241.50 Z" fill="#00ffff" fill-opacity="0.5" stroke="#206060" stroke-opacity="0.35" stroke-width="0.6"/>
<path d="M352.50,241.50 L352.84,241.50 L353.18,241.50 L353.53,241.50 L353.87,241.50 L354.21,241.50 L354.55,241.50 L354.89,241.50 L355.24,241.50 L355.58,241.50 L355.92,241.50 L356.26,241.50 L356.60,241.50 L356.95,241.50 L357.29,241.50 L357.63,241.50 L357.97,241.50 L358.31,241.50 L358.66,241.50 L359.00,241.50 L359.34,241.50 L359.68,241.50 L360.02,241.50 L360.37,241.50 L360.71,241.50 L361.05,241.50 L361.39,241.50 L361.73,241.50 L362.08,241.50 L362.42,241.50 L362.76,241.50 L363.10,241.50 L363.28,241.50 L363.28,241.50 L363.44,241.50 L363.79,241.50 L364.13,241.50 L364.47,241.50 L364.81,241.50 L365.15,241.50 L365.50,241.50 L365.84,241.50 L366.18,241.50 L366.52,241.50 L366.86,241.50 L367.21,241.50 L367.55,241.50 L367.89,241.50 L368.23,241.50 L368.57,241.50 L368.92,241.50 L369.26,241.50 L369.60,241.50 L369.94,241.50 L370.28,241.50 L370.63,241.50 L370.97,241.50 L371.31,241.50 L371.65,241.50 L371.99,241.50 L372.34,241.50 L372.68,241.50 L373.02,241.50 L373.36,241.50 L373.70,241.50 L374.05,241.50 L374.39,241.50 L374.73,241.50 L375.07,241.50 L375.41,241.50 L375.76,241.50 L376.10,241.50 L376.44,241.50 L376.78,241.50 L377.12,241.50 L377.47,241.50 L377.81,241.50 L378.15,241.50 L378.49,241.50 L378.83,241.50 L379.18,241.50 L379.52,241.50 L379.86,241.50 L380.20,241.50 L380.54,241.50 L380.89,241.50 L381.23,241.50 L381.57,241.50 L381.91,241.50 L382.25,241.50 L382.60,241.50 L382.94,241.50 L383.28,241.50 L383.62,241.50 L383.96,241.50 L384.31,241.50 L384.65,241.50 L384.99,241.50 L385.33,241.50 L385.67,241.50 L386.02,241.50 L386.36,241.50 L386.70,241.50 L387.04,241.50 L387.38,241.50 L387.73,241.50 L388.07,241.50 L388.41,241.50 L388.75,241.50 L389.09,241.50 L389.44,241.50 L389.78,241.50 L390.12,241.50 L390.46,241.50 L390.80,241.50 L391.15,241.50 L391.49,241.50 L391.83,241.50 L392.17,241.50 L392.51,241.50 L392.86,241.50 L393.20,241.50 L393.54,241.50 L393.88,241.50 L394.22,241.50 L394.57,241.50 L394.91,241.50 L395.25,241.50 L395.59,241.50 L395.93,241.50 L396.28,241.50 L396.62,241.50 L396.96,241.50 L397.30,241.50 L397.64,241.50 L397.99,241.50 L398.33,241.49 L398.67,241.49 L399.01,241.49 L399.35,241.49 L399.70,241.49 L400.04,241.49 L400.38,241.49 L400.72,241.49 L401.06,241.49 L401.41,241.49 L401.75,241.48 L402.09,241.48 L402.43,241.48 L402.77,241.48 L403.12,241.47 L403.46,241.47 L403.80,241.47 L404.14,241.46 L404.48,241.46 L404.83,241.46 L405.17,241.45 L405.51,241.45 L405.85,241.44 L406.19,241.43 L406.54,241.43 L406.88,241.42 L407.22,241.41 L407.56,241.40 L407.90,241.39 L408.25,241.38 L408.59,241.37 L408.93,241.36 L409.27,241.34 L409.61,241.33 L409.96,241.31 L410.30,241.29 L410.64,241.27 L410.98,241.25 L411.32,241.23 L411.67,241.20 L412.01,241.18 L412.35,241.15 L412.69,241.11 L413.03,241.08 L413.38,241.04 L413.72,241.00 L414.06,240.95 L414.40,240.91 L414.74,240.85 L415.09,240.80 L415.43,240.74 L415.77,240.67 L416.11,240.61 L416.45,240.53 L416.80,240.45 L417.14,240.37 L417.48,240.27 L417.82,240.17 L418.16,240.07 L418.51,239.96 L418.85,239.84 L419.19,239.71 L419.53,239.57 L419.87,239.42 L420.22,239.27 L420.56,239.10 L420.90,238.93 L421.24,238.74 L421.58,238.54 L421.93,238.33 L422.27,238.10 L422.61,237.87 L422.95,237.62 L423.29,237.35 L423.64,237.07 L423.98,236.77 L424.32,236.46 L424.66,236.13 L425.00,235.78 L425.35,235.42 L425.69,235.03 L426.03,234.63 L426.37,234.21 L426.71,233.76 L427.06,233.30 L427.40,232.81 L427.74,232.30 L428.08,231.76 L428.42,231.20 L428.77,230.62 L429.11,230.01 L429.45,229.38 L429.79,228.72 L430.13,228.03 L430.48,227.32 L430.82,226.58 L431.16,225.81 L431.50,225.02 L431.84,224.19 L432.19,223.34 L432.53,222.46 L432.87,221.54 L433.21,220.60 L433.55,219.63 L433.90,218.64 L434.24,217.61 L434.58,216.55 L434.92,215.47 L435.26,214.35 L435.61,213.21 L435.95,212.04 L436.29,210.84 L436.63,209.62 L436.97,208.37 L437.32,207.10 L437.66,205.80 L438.00,204.48 L438.34,203.13 L438.68,201.77 L439.03,200.38 L439.37,198.98 L439.71,197.55 L440.05,196.12 L440.39,194.66 L440.74,193.20 L441.08,191.72 L441.42,190.23 L441.76,188.74 L442.10,187.24 L442.45,185.73 L442.79,184.23 L443.13,182.72 L443.47,181.21 L443.81,179.71 L444.16,178.22 L444.50,176.73 L444.84,175.26 L445.18,173.80 L445.52,172.35 L445.87,170.93 L446.21,169.52 L446.55,168.14 L446.89,166.78 L447.23,165.45 L447.58,164.14 L447.92,162.88 L448.26,161.64 L448.60,160.44 L448.94,159.28 L449.29,158.17 L449.63,157.09 L449.97,156.06 L450.31,155.08 L450.65,154.15 L451.00,153.27 L451.34,152.44 L451.68,151.66 L452.02,150.94 L452.36,150.28 L452.71,149.68 L453.05,149.14 L453.39,148.66 L453.73,148.24 L454.07,147.88 L454.42,147.59 L454.76,147.36 L455.10,147.20 L455.44,147.10 L455.78,147.07 L456.13,147.10 L456.47,147.20 L456.81,147.36 L457.15,147.59 L457.49,147.88 L457.84,148.24 L458.18,148.66 L458.52,149.14 L458.86,149.68 L459.20,150.28 L459.55,150.94 L459.89,151.66 L460.23,152.44 L460.57,153.27 L460.91,154.15 L461.26,155.08 L461.60,156.06 L461.94,157.09 L462.28,158.17 L462.62,159.28 L462.97,160.44 L463.31,161.64 L463.65,162.88 L463.99,164.14 L464.33,165.45 L464.68,166.78 L465.02,168.14 L465.36,169.52 L465.70,170.93 L466.04,172.35 L466.39,173.80 L466.73,175.26 L467.07,176.73 L467.41,178.22 L467.75,179.71 L468.10,181.21 L468.44,182.72 L468.78,184.23 L469.12,185.73 L469.46,187.24 L469.81,188.74 L470.15,190.23 L470.49,191.72 L470.83,193.20 L471.17,194.66 L471.52,196.12 L471.86,197.55 L472.20,198.98 L472.54,200.38 L472.88,201.77 L473.23,203.13 L473.57,204.48 L473.91,205.80 L474.25,207.10 L474.59,208.37 L474.94,209.62 L475.28,210.84 L475.62,212.04 L475.96,213.21 L476.30,214.35 L476.65,215.47 L476.99,216.55 L477.33,217.61 L477.67,218.64 L478.01,219.63 L478.36,220.60 L478.70,221.54 L479.04,222.46 L479.38,223.34 L479.72,224.19 L480.07,225.02 L480.41,225.81 L480.75,226.58 L481.09,227.32 L481.43,228.03 L481.78,228.72 L482.12,229.38 L482.46,230.01 L482.80,230.62 L483.14,231.20 L483.49,231.76 L483.83,232.30 L484.17,232.81 L484.51,233.30 L484.85,233.76 L485.20,234.21 L485.54,234.63 L485.88,235.03 L486.22,235.42 L486.56,235.78 L486.91,236.13 L487.25,236.46 L487.59,236.77 L487.93,237.07 L488.27,237.35 L488.62,237.62 L488.96,237.87 L489.30,238.10" fill="none" stroke="#ff00ff" stroke-opacity="0.95" stroke-width="1.15" stroke-dasharray="3.2 1.3"/>
<path d="M352.50,241.50 L352.84,241.50 L353.18,241.50 L353.53,241.50 L353.87,241.50 L354.21,241.50 L354.55,241.50 L354.89,241.50 L355.24,241.50 L355.58,241.50 L355.92,241.50 L356.26,241.50 L356.60,241.50 L356.95,241.50 L357.29,241.50 L357.63,241.50 L357.97,241.50 L358.31,241.50 L358.66,241.50 L359.00,241.50 L359.34,241.50 L359.68,241.50 L360.02,241.50 L360.37,241.50 L360.71,241.50 L361.05,241.50 L361.39,241.50 L361.73,241.50 L362.08,241.50 L362.42,241.50 L362.76,241.50 L363.10,241.50 L363.28,241.50 L363.28,241.50 L363.44,241.50 L363.79,241.50 L364.13,241.50 L364.47,241.50 L364.81,241.50 L365.15,241.50 L365.50,241.50 L365.84,241.50 L366.18,241.50 L366.52,241.50 L366.86,241.50 L367.21,241.50 L367.55,241.50 L367.89,241.50 L368.23,241.50 L368.57,241.50 L368.92,241.50 L369.26,241.50 L369.60,241.50 L369.94,241.50 L370.28,241.50 L370.63,241.50 L370.97,241.50 L371.31,241.50 L371.65,241.50 L371.99,241.50 L372.34,241.50 L372.68,241.50 L373.02,241.50 L373.36,241.50 L373.70,241.50 L374.05,241.50 L374.39,241.50 L374.73,241.50 L375.07,241.50 L375.41,241.50 L375.76,241.50 L376.10,241.50 L376.44,241.50 L376.78,241.50 L377.12,241.50 L377.47,241.50 L377.81,241.50 L378.15,241.50 L378.49,241.50 L378.83,241.50 L379.18,241.50 L379.52,241.50 L379.86,241.50 L380.20,241.50 L380.54,241.50 L380.89,241.50 L381.23,241.50 L381.57,241.50 L381.91,241.50 L382.25,241.50 L382.60,241.50 L382.94,241.50 L383.28,241.50 L383.62,241.50 L383.96,241.50 L384.31,241.50 L384.65,241.50 L384.99,241.50 L385.33,241.50 L385.67,241.50 L386.02,241.50 L386.36,241.50 L386.70,241.50 L387.04,241.50 L387.38,241.50 L387.73,241.50 L388.07,241.50 L388.41,241.50 L388.75,241.50 L389.09,241.50 L389.44,241.50 L389.78,241.50 L390.12,241.50 L390.46,241.50 L390.80,241.50 L391.15,241.50 L391.49,241.50 L391.83,241.50 L392.17,241.50 L392.51,241.50 L392.86,241.50 L393.20,241.50 L393.54,241.50 L393.88,241.50 L394.22,241.50 L394.57,241.50 L394.91,241.50 L395.25,241.50 L395.59,241.50 L395.93,241.50 L396.28,241.50 L396.62,241.50 L396.96,241.50 L397.30,241.50 L397.64,241.50 L397.99,241.50 L398.33,241.50 L398.67,241.50 L399.01,241.50 L399.35,241.50 L399.70,241.50 L400.04,241.50 L400.38,241.50 L400.72,241.50 L401.06,241.50 L401.41,241.50 L401.75,241.50 L402.09,241.50 L402.43,241.50 L402.77,241.50 L403.12,241.50 L403.46,241.50 L403.80,241.50 L404.14,241.50 L404.48,241.50 L404.83,241.50 L405.17,241.50 L405.51,241.50 L405.85,241.50 L406.19,241.50 L406.54,241.50 L406.88,241.50 L407.22,241.50 L407.56,241.50 L407.90,241.50 L408.25,241.50 L408.59,241.50 L408.93,241.50 L409.27,241.50 L409.61,241.50 L409.96,241.50 L410.30,241.50 L410.64,241.50 L410.98,241.50 L411.32,241.50 L411.67,241.50 L412.01,241.50 L412.35,241.50 L412.69,241.50 L413.03,241.50 L413.38,241.50 L413.72,241.50 L414.06,241.50 L414.40,241.50 L414.74,241.50 L415.09,241.50 L415.43,241.50 L415.77,241.50 L416.11,241.50 L416.45,241.50 L416.80,241.50 L417.14,241.50 L417.48,241.50 L417.82,241.50 L418.16,241.50 L418.51,241.50 L418.85,241.50 L419.19,241.50 L419.53,241.50 L419.87,241.50 L420.22,241.50 L420.56,241.49 L420.90,241.49 L421.24,241.49 L421.58,241.49 L421.93,241.48 L422.27,241.48 L422.61,241.47 L422.95,241.46 L423.29,241.45 L423.64,241.43 L423.98,241.41 L424.32,241.38 L424.66,241.35 L425.00,241.31 L425.35,241.26 L425.69,241.20 L426.03,241.13 L426.37,241.03 L426.71,240.92 L427.06,240.78 L427.40,240.61 L427.74,240.41 L428.08,240.16 L428.42,239.87 L428.77,239.52 L429.11,239.10 L429.45,238.60 L429.79,238.02 L430.13,237.34 L430.48,236.54 L430.82,235.61 L431.16,234.54 L431.50,233.30 L431.84,231.89 L432.19,230.27 L432.53,228.43 L432.87,226.35 L433.21,224.01 L433.55,221.38 L433.90,218.45 L434.24,215.20 L434.58,211.61 L434.92,207.66 L435.26,203.34 L435.61,198.64 L435.95,193.54 L436.29,188.06 L436.63,182.18 L436.97,175.91 L437.32,169.26 L437.66,162.26 L438.00,154.92 L438.34,147.26 L438.68,139.34 L439.03,131.18 L439.37,122.84 L439.71,114.37 L440.05,105.84 L440.39,97.30 L440.74,88.82 L441.08,80.48 L441.42,72.36 L441.76,64.52 L442.10,57.04 L442.45,50.01 L442.79,43.49 L443.13,37.55 L443.47,32.27 L443.81,27.68 L444.16,23.86 L444.50,20.84 L444.84,18.65 L445.18,17.33 L445.52,16.89 L445.87,17.33 L446.21,18.65 L446.55,20.84 L446.89,23.86 L447.23,27.68 L447.58,32.27 L447.92,37.55 L448.26,43.49 L448.60,50.01 L448.94,57.04 L449.29,64.52 L449.63,72.36 L449.97,80.48 L450.31,88.82 L450.65,97.30 L451.00,105.84 L451.34,114.37 L451.68,122.84 L452.02,131.18 L452.36,139.34 L452.71,147.26 L453.05,154.92 L453.39,162.26 L453.73,169.26 L454.07,175.91 L454.42,182.18 L454.76,188.06 L455.10,193.54 L455.44,198.64 L455.78,203.34 L456.13,207.66 L456.47,211.61 L456.81,215.20 L457.15,218.45 L457.49,221.38 L457.84,224.01 L458.18,226.35 L458.52,228.43 L458.86,230.27 L459.20,231.89 L459.55,233.30 L459.89,234.54 L460.23,235.61 L460.57,236.54 L460.91,237.34 L461.26,238.02 L461.60,238.60 L461.94,239.10 L462.28,239.52 L462.62,239.87 L462.97,240.16 L463.31,240.41 L463.65,240.61 L463.99,240.78 L464.33,240.92 L464.68,241.03 L465.02,241.13 L465.36,241.20 L465.70,241.26 L466.04,241.31 L466.39,241.35 L466.73,241.38 L467.07,241.41 L467.41,241.43 L467.75,241.45 L468.10,241.46 L468.44,241.47 L468.78,241.48 L469.12,241.48 L469.46,241.49 L469.81,241.49 L470.15,241.49 L470.49,241.49 L470.83,241.50 L471.17,241.50 L471.52,241.50 L471.86,241.50 L472.20,241.50 L472.54,241.50 L472.88,241.50 L473.23,241.50 L473.57,241.50 L473.91,241.50 L474.25,241.50 L474.59,241.50 L474.94,241.50 L475.28,241.50 L475.62,241.50 L475.96,241.50 L476.30,241.50 L476.65,241.50 L476.99,241.50 L477.33,241.50 L477.67,241.50 L478.01,241.50 L478.36,241.50 L478.70,241.50 L479.04,241.50 L479.38,241.50 L479.72,241.50 L480.07,241.50 L480.41,241.50 L480.75,241.50 L481.09,241.50 L481.43,241.50 L481.78,241.50 L482.12,241.50 L482.46,241.50 L482.80,241.50 L483.14,241.50 L483.49,241.50 L483.83,241.50 L484.17,241.50 L484.51,241.50 L484.85,241.50 L485.20,241.50 L485.54,241.50 L485.88,241.50 L486.22,241.50 L486.56,241.50 L486.91,241.50 L487.25,241.50 L487.59,241.50 L487.93,241.50 L488.27,241.50 L488.62,241.50 L488.96,241.50 L489.30,241.50" fill="none" stroke="#ff00ff" stroke-opacity="0.95" stroke-width="1.0"/>
<path d="M352.50,241.21 L352.84,241.20 L353.18,241.19 L353.53,241.18 L353.87,241.16 L354.21,241.15 L354.55,241.13 L354.89,241.12 L355.24,241.10 L355.58,241.09 L355.92,241.07 L356.26,241.05 L356.60,241.03 L356.95,241.02 L357.29,241.00 L357.63,240.98 L357.97,240.96 L358.31,240.93 L358.66,240.91 L359.00,240.89 L359.34,240.87 L359.68,240.84 L360.02,240.82 L360.37,240.79 L360.71,240.76 L361.05,240.73 L361.39,240.70 L361.73,240.67 L362.08,240.64 L362.42,240.61 L362.76,240.58 L363.10,240.54 L363.44,240.51 L363.79,240.47 L364.13,240.44 L364.47,240.40 L364.81,240.36 L365.15,240.32 L365.50,240.27 L365.84,240.23 L366.18,240.18 L366.52,240.14 L366.86,240.09 L367.21,240.04 L367.55,239.99 L367.89,239.94 L368.23,239.88 L368.57,239.83 L368.92,239.77 L369.26,239.71 L369.60,239.65 L369.94,239.59 L370.28,239.53 L370.63,239.46 L370.97,239.39 L371.31,239.33 L371.65,239.25 L371.99,239.18 L372.34,239.11 L372.68,239.03 L373.02,238.95 L373.36,238.87 L373.70,238.79 L374.05,238.70 L374.39,238.61 L374.73,238.52 L375.07,238.43 L375.41,238.33 L375.76,238.24 L376.10,238.14 L376.44,238.04 L376.78,237.93 L377.12,237.83 L377.47,237.72 L377.81,237.60 L378.15,237.49 L378.49,237.37 L378.83,237.25 L379.18,237.13 L379.52,237.00 L379.86,236.87 L380.20,236.74 L380.54,236.61 L380.89,236.47 L381.23,236.33 L381.57,236.19 L381.91,236.04 L382.25,235.89 L382.60,235.74 L382.94,235.58 L383.28,235.43 L383.62,235.26 L383.96,235.10 L384.31,234.93 L384.65,234.76 L384.99,234.58 L385.33,234.40 L385.67,234.22 L386.02,234.04 L386.36,233.85 L386.70,233.65 L387.04,233.46 L387.38,233.26 L387.73,233.06 L388.07,232.85 L388.41,232.64 L388.75,232.43 L389.09,232.21 L389.44,231.99 L389.78,231.76 L390.12,231.54 L390.46,231.30 L390.80,231.07 L391.15,230.83 L391.49,230.59 L391.83,230.34 L392.17,230.09 L392.51,229.84 L392.86,229.58 L393.20,229.32 L393.54,229.05 L393.88,228.79 L394.22,228.51 L394.57,228.24 L394.91,227.96 L395.25,227.68 L395.59,227.39 L395.93,227.10 L396.28,226.81 L396.62,226.51 L396.96,226.21 L397.30,225.91 L397.64,225.60 L397.99,225.29 L398.33,224.98 L398.67,224.66 L399.01,224.34 L399.35,224.02 L399.70,223.69 L400.04,223.36 L400.38,223.03 L400.72,222.70 L401.06,222.36 L401.41,222.02 L401.75,221.68 L402.09,221.33 L402.43,220.98 L402.77,220.63 L403.12,220.28 L403.46,219.92 L403.80,219.56 L404.14,219.20 L404.48,218.84 L404.83,218.47 L405.17,218.11 L405.51,217.74 L405.85,217.37 L406.19,217.00 L406.54,216.62 L406.88,216.25 L407.22,215.87 L407.56,215.49 L407.90,215.11 L408.25,214.73 L408.59,214.35 L408.93,213.97 L409.27,213.59 L409.61,213.21 L409.96,212.82 L410.30,212.44 L410.64,212.06 L410.98,211.67 L411.32,211.29 L411.67,210.90 L412.01,210.52 L412.35,210.14 L412.69,209.75 L413.03,209.37 L413.38,208.99 L413.72,208.61 L414.06,208.23 L414.40,207.85 L414.74,207.48 L415.09,207.10 L415.43,206.73 L415.77,206.36 L416.11,205.99 L416.45,205.62 L416.80,205.26 L417.14,204.90 L417.48,204.54 L417.82,204.18 L418.16,203.83 L418.51,203.47 L418.85,203.13 L419.19,202.78 L419.53,202.44 L419.87,202.10 L420.22,201.77 L420.56,201.44 L420.90,201.11 L421.24,200.79 L421.58,200.47 L421.93,200.16 L422.27,199.85 L422.61,199.55 L422.95,199.25 L423.29,198.95 L423.64,198.66 L423.98,198.38 L424.32,198.10 L424.66,197.83 L425.00,197.56 L425.35,197.30 L425.69,197.04 L426.03,196.79 L426.37,196.55 L426.71,196.31 L427.06,196.08 L427.40,195.86 L427.74,195.64 L428.08,195.43 L428.42,195.22 L428.77,195.02 L429.11,194.83 L429.45,194.65 L429.79,194.47 L430.13,194.30 L430.48,194.14 L430.82,193.99 L431.16,193.84 L431.50,193.70 L431.84,193.57 L432.19,193.44 L432.53,193.33 L432.87,193.22 L433.21,193.12 L433.55,193.02 L433.90,192.94 L434.24,192.86 L434.58,192.79 L434.92,192.73 L435.26,192.68 L435.61,192.63 L435.95,192.60 L436.29,192.57 L436.63,192.55 L436.97,192.54 L437.32,192.53 L437.66,192.54 L438.00,192.55 L438.34,192.57 L438.68,192.61 L439.03,192.65 L439.37,192.70 L439.71,192.76 L440.05,192.83 L440.39,192.91 L440.74,192.99 L441.08,193.09 L441.42,193.19 L441.76,193.31 L442.10,193.43 L442.45,193.56 L442.79,193.70 L443.13,193.85 L443.47,194.01 L443.81,194.18 L444.16,194.35 L444.50,194.53 L444.84,194.72 L445.18,194.92 L445.52,195.13 L445.87,195.35 L446.21,195.57 L446.55,195.80 L446.89,196.03 L447.23,196.28 L447.58,196.53 L447.92,196.79 L448.26,197.06 L448.60,197.33 L448.94,197.61 L449.29,197.89 L449.63,198.19 L449.97,198.48 L450.31,198.79 L450.65,199.10 L451.00,199.42 L451.34,199.74 L451.68,200.06 L452.02,200.40 L452.36,200.73 L452.71,201.08 L453.05,201.42 L453.39,201.77 L453.73,202.13 L454.07,202.49 L454.42,202.85 L454.76,203.22 L455.10,203.59 L455.44,203.97 L455.78,204.35 L456.13,204.73 L456.47,205.11 L456.81,205.50 L457.15,205.89 L457.49,206.28 L457.84,206.68 L458.18,207.07 L458.52,207.47 L458.86,207.87 L459.20,208.27 L459.55,208.68 L459.89,209.08 L460.23,209.49 L460.57,209.89 L460.91,210.30 L461.26,210.71 L461.60,211.12 L461.94,211.53 L462.28,211.94 L462.62,212.34 L462.97,212.75 L463.31,213.16 L463.65,213.57 L463.99,213.98 L464.33,214.38 L464.68,214.79 L465.02,215.19 L465.36,215.59 L465.70,216.00 L466.04,216.40 L466.39,216.79 L466.73,217.19 L467.07,217.59 L467.41,217.98 L467.75,218.37 L468.10,218.76 L468.44,219.14 L468.78,219.53 L469.12,219.91 L469.46,220.29 L469.81,220.67 L470.15,221.04 L470.49,221.41 L470.83,221.78 L471.17,222.14 L471.52,222.50 L471.86,222.86 L472.20,223.22 L472.54,223.57 L472.88,223.92 L473.23,224.26 L473.57,224.60 L473.91,224.94 L474.25,225.27 L474.59,225.60 L474.94,225.93 L475.28,226.25 L475.62,226.57 L475.96,226.88 L476.30,227.20 L476.65,227.50 L476.99,227.80 L477.33,228.10 L477.67,228.40 L478.01,228.69 L478.36,228.98 L478.70,229.26 L479.04,229.54 L479.38,229.81 L479.72,230.08 L480.07,230.35 L480.41,230.61 L480.75,230.87 L481.09,231.12 L481.43,231.37 L481.78,231.62 L482.12,231.86 L482.46,232.09 L482.80,232.33 L483.14,232.56 L483.49,232.78 L483.83,233.00 L484.17,233.22 L484.51,233.43 L484.85,233.64 L485.20,233.85 L485.54,234.05 L485.88,234.24 L486.22,234.44 L486.56,234.63 L486.91,234.81 L487.25,234.99 L487.59,235.17 L487.93,235.35 L488.27,235.52 L488.62,235.68 L488.96,235.85 L489.30,236.01" fill="none" stroke="#ff0000" stroke-opacity="0.85" stroke-width="1.05"/>
</g>
<rect x="352.50" y="5.40" width="136.80" height="236.10" fill="none" stroke="#000" stroke-opacity="0.42" stroke-width="1"/>
<line x1="352.50" y1="241.50" x2="352.50" y2="244.00" stroke="#000" stroke-opacity="0.3" stroke-width="0.8"/>
<text x="346.51" y="250.0" font-size="7.15" style="font-family:'Liberation Sans',sans-serif;font-weight:bold;stroke:#000;stroke-width:0.35px;text-rendering:geometricPrecision" textLength="11.98" lengthAdjust="spacingAndGlyphs">0.0</text>
<line x1="375.30" y1="241.50" x2="375.30" y2="244.00" stroke="#000" stroke-opacity="0.3" stroke-width="0.8"/>
<text x="369.32" y="250.0" font-size="7.15" style="font-family:'Liberation Sans',sans-serif;font-weight:bold;stroke:#000;stroke-width:0.35px;text-rendering:geometricPrecision" textLength="11.86" lengthAdjust="spacingAndGlyphs">0.1</text>
<line x1="398.10" y1="241.50" x2="398.10" y2="244.00" stroke="#000" stroke-opacity="0.3" stroke-width="0.8"/>
<text x="392.11" y="250.0" font-size="7.15" style="font-family:'Liberation Sans',sans-serif;font-weight:bold;stroke:#000;stroke-width:0.35px;text-rendering:geometricPrecision" textLength="11.97" lengthAdjust="spacingAndGlyphs">0.2</text>
<line x1="420.90" y1="241.50" x2="420.90" y2="244.00" stroke="#000" stroke-opacity="0.3" stroke-width="0.8"/>
<text x="414.92" y="250.0" font-size="7.15" style="font-family:'Liberation Sans',sans-serif;font-weight:bold;stroke:#000;stroke-width:0.35px;text-rendering:geometricPrecision" textLength="11.94" lengthAdjust="spacingAndGlyphs">0.3</text>
<line x1="443.70" y1="241.50" x2="443.70" y2="244.00" stroke="#000" stroke-opacity="0.3" stroke-width="0.8"/>
<text x="437.72" y="250.0" font-size="7.15" style="font-family:'Liberation Sans',sans-serif;font-weight:bold;stroke:#000;stroke-width:0.35px;text-rendering:geometricPrecision" textLength="11.67" lengthAdjust="spacingAndGlyphs">0.4</text>
<line x1="466.50" y1="241.50" x2="466.50" y2="244.00" stroke="#000" stroke-opacity="0.3" stroke-width="0.8"/>
<text x="460.52" y="250.0" font-size="7.15" style="font-family:'Liberation Sans',sans-serif;font-weight:bold;stroke:#000;stroke-width:0.35px;text-rendering:geometricPrecision" textLength="11.86" lengthAdjust="spacingAndGlyphs">0.5</text>
<line x1="489.30" y1="241.50" x2="489.30" y2="244.00" stroke="#000" stroke-opacity="0.3" stroke-width="0.8"/>
<text x="483.32" y="250.0" font-size="7.15" style="font-family:'Liberation Sans',sans-serif;font-weight:bold;stroke:#000;stroke-width:0.35px;text-rendering:geometricPrecision" textLength="11.94" lengthAdjust="spacingAndGlyphs">0.6</text>
<line x1="350.00" y1="241.50" x2="352.50" y2="241.50" stroke="#000" stroke-opacity="0.3" stroke-width="0.8"/>
<text x="345.01" y="244.35" font-size="7.15" style="font-family:'Liberation Sans',sans-serif;font-weight:bold;stroke:#000;stroke-width:0.35px;text-rendering:geometricPrecision" textLength="4.08" lengthAdjust="spacingAndGlyphs">0</text>
<line x1="350.00" y1="214.52" x2="352.50" y2="214.52" stroke="#000" stroke-opacity="0.3" stroke-width="0.8"/>
<text x="345.05" y="217.37" font-size="7.15" style="font-family:'Liberation Sans',sans-serif;font-weight:bold;stroke:#000;stroke-width:0.35px;text-rendering:geometricPrecision" textLength="4.03" lengthAdjust="spacingAndGlyphs">2</text>
<line x1="350.00" y1="187.54" x2="352.50" y2="187.54" stroke="#000" stroke-opacity="0.3" stroke-width="0.8"/>
<text x="345.20" y="190.39" font-size="7.15" style="font-family:'Liberation Sans',sans-serif;font-weight:bold;stroke:#000;stroke-width:0.35px;text-rendering:geometricPrecision" textLength="3.63" lengthAdjust="spacingAndGlyphs">4</text>
<line x1="350.00" y1="160.56" x2="352.50" y2="160.56" stroke="#000" stroke-opacity="0.3" stroke-width="0.8"/>
<text x="345.04" y="163.41" font-size="7.15" style="font-family:'Liberation Sans',sans-serif;font-weight:bold;stroke:#000;stroke-width:0.35px;text-rendering:geometricPrecision" textLength="4.01" lengthAdjust="spacingAndGlyphs">6</text>
<line x1="350.00" y1="133.58" x2="352.50" y2="133.58" stroke="#000" stroke-opacity="0.3" stroke-width="0.8"/>
<text x="345.08" y="136.43" font-size="7.15" style="font-family:'Liberation Sans',sans-serif;font-weight:bold;stroke:#000;stroke-width:0.35px;text-rendering:geometricPrecision" textLength="3.93" lengthAdjust="spacingAndGlyphs">8</text>
<line x1="350.00" y1="106.60" x2="352.50" y2="106.60" stroke="#000" stroke-opacity="0.3" stroke-width="0.8"/>
<text x="340.73" y="109.45" font-size="7.15" style="font-family:'Liberation Sans',sans-serif;font-weight:bold;stroke:#000;stroke-width:0.35px;text-rendering:geometricPrecision" textLength="8.37" lengthAdjust="spacingAndGlyphs">10</text>
<line x1="350.00" y1="79.62" x2="352.50" y2="79.62" stroke="#000" stroke-opacity="0.3" stroke-width="0.8"/>
<text x="340.73" y="82.47" font-size="7.15" style="font-family:'Liberation Sans',sans-serif;font-weight:bold;stroke:#000;stroke-width:0.35px;text-rendering:geometricPrecision" textLength="8.36" lengthAdjust="spacingAndGlyphs">12</text>
<line x1="350.00" y1="52.64" x2="352.50" y2="52.64" stroke="#000" stroke-opacity="0.3" stroke-width="0.8"/>
<text x="340.75" y="55.49" font-size="7.15" style="font-family:'Liberation Sans',sans-serif;font-weight:bold;stroke:#000;stroke-width:0.35px;text-rendering:geometricPrecision" textLength="8.09" lengthAdjust="spacingAndGlyphs">14</text>
<line x1="350.00" y1="25.66" x2="352.50" y2="25.66" stroke="#000" stroke-opacity="0.3" stroke-width="0.8"/>
<text x="340.74" y="28.51" font-size="7.15" style="font-family:'Liberation Sans',sans-serif;font-weight:bold;stroke:#000;stroke-width:0.35px;text-rendering:geometricPrecision" textLength="8.33" lengthAdjust="spacingAndGlyphs">16</text>
<text x="354.77" y="18.8" font-size="8.9" style="font-family:'Liberation Sans',sans-serif;font-weight:bold;stroke:#000;stroke-width:0.35px;text-rendering:geometricPrecision" textLength="9.22" lengthAdjust="spacingAndGlyphs">c)</text>
<text x="397.44" y="260.6" font-size="9.4" style="font-family:'Liberation Sans',sans-serif;font-weight:bold;stroke:#000;stroke-width:0.35px;text-rendering:geometricPrecision" textLength="7.23" lengthAdjust="spacingAndGlyphs">H</text>
<text x="404.82" y="262.0" font-size="6.9" style="font-family:'Liberation Sans',sans-serif;font-weight:bold;stroke:#000;stroke-width:0.35px;text-rendering:geometricPrecision;font-style:italic" textLength="17.99" lengthAdjust="spacingAndGlyphs">snow</text>
<text x="427.37" y="260.4" font-size="9.4" style="font-family:'Liberation Sans',sans-serif;font-weight:bold;stroke:#000;stroke-width:0.35px;text-rendering:geometricPrecision" textLength="16.97" lengthAdjust="spacingAndGlyphs">(m)</text>
<text transform="translate(12.1,197.6) rotate(-90)" x="-0.73" y="0" font-size="9.7" style="font-family:'Liberation Sans',sans-serif;font-weight:bold;stroke:#000;stroke-width:0.35px;text-rendering:geometricPrecision" textLength="149.81" lengthAdjust="spacingAndGlyphs">Probability Density Function</text>
<rect x="239.60" y="9.75" width="80.80" height="125.55" rx="2" ry="2" fill="#fff" fill-opacity="0.8" stroke="#ccc" stroke-opacity="0.6" stroke-width="0.7"/>
<rect x="243.20" y="20.2" width="18.80" height="6.6" fill="#000"/>
<rect x="243.20" y="44.1" width="18.80" height="6.4" fill="#808080" fill-opacity="0.7" stroke="#404040" stroke-opacity="0.55" stroke-width="0.6"/>
<rect x="243.20" y="62.1" width="18.80" height="6.6" fill="#00ffff" fill-opacity="0.5" stroke="#206060" stroke-opacity="0.5" stroke-width="0.6"/>
<line x1="243.20" y1="85.0" x2="262.00" y2="85.0" stroke="#ff00ff" stroke-opacity="0.7" stroke-width="1.2" stroke-dasharray="3.5 1.1"/>
<line x1="243.20" y1="109.1" x2="262.00" y2="109.1" stroke="#ff00ff" stroke-opacity="0.65" stroke-width="1.5"/>
<line x1="243.20" y1="126.8" x2="262.00" y2="126.8" stroke="#ff0000" stroke-opacity="0.6" stroke-width="1.5"/>
<text x="269.36" y="20.70" font-size="10.0" style="font-family:'Liberation Sans',sans-serif;font-weight:bold;stroke:#000;stroke-width:0.35px;text-rendering:geometricPrecision" textLength="29.51" lengthAdjust="spacingAndGlyphs">SVS-2</text>
<text x="269.10" y="31.00" font-size="10.0" style="font-family:'Liberation Sans',sans-serif;font-weight:bold;stroke:#000;stroke-width:0.35px;text-rendering:geometricPrecision" textLength="37.61" lengthAdjust="spacingAndGlyphs">Default</text>
<text x="269.36" y="44.80" font-size="10.0" style="font-family:'Liberation Sans',sans-serif;font-weight:bold;stroke:#000;stroke-width:0.35px;text-rendering:geometricPrecision" textLength="29.51" lengthAdjust="spacingAndGlyphs">SVS-2</text>
<text x="268.78" y="54.70" font-size="10.0" style="font-family:'Liberation Sans',sans-serif;font-weight:bold;stroke:#000;stroke-width:0.35px;text-rendering:geometricPrecision" textLength="29.71" lengthAdjust="spacingAndGlyphs">Arctic</text>
<text x="269.35" y="68.20" font-size="10.0" style="font-family:'Liberation Sans',sans-serif;font-weight:bold;stroke:#000;stroke-width:0.35px;text-rendering:geometricPrecision" textLength="46.74" lengthAdjust="spacingAndGlyphs">Snowpits</text>
<text x="269.12" y="82.30" font-size="10.0" style="font-family:'Liberation Sans',sans-serif;font-weight:bold;stroke:#000;stroke-width:0.35px;text-rendering:geometricPrecision" textLength="25.03" lengthAdjust="spacingAndGlyphs">Prior</text>
<text x="269.10" y="92.50" font-size="10.0" style="font-family:'Liberation Sans',sans-serif;font-weight:bold;stroke:#000;stroke-width:0.35px;text-rendering:geometricPrecision" textLength="37.61" lengthAdjust="spacingAndGlyphs">Default</text>
<text x="269.12" y="105.80" font-size="10.0" style="font-family:'Liberation Sans',sans-serif;font-weight:bold;stroke:#000;stroke-width:0.35px;text-rendering:geometricPrecision" textLength="25.03" lengthAdjust="spacingAndGlyphs">Prior</text>
<text x="268.78" y="116.00" font-size="10.0" style="font-family:'Liberation Sans',sans-serif;font-weight:bold;stroke:#000;stroke-width:0.35px;text-rendering:geometricPrecision" textLength="29.71" lengthAdjust="spacingAndGlyphs">Arctic</text>
<text x="269.35" y="129.50" font-size="10.0" style="font-family:'Liberation Sans',sans-serif;font-weight:bold;stroke:#000;stroke-width:0.35px;text-rendering:geometricPrecision" textLength="46.74" lengthAdjust="spacingAndGlyphs">Snowpits</text>
</svg>
</body></html>
